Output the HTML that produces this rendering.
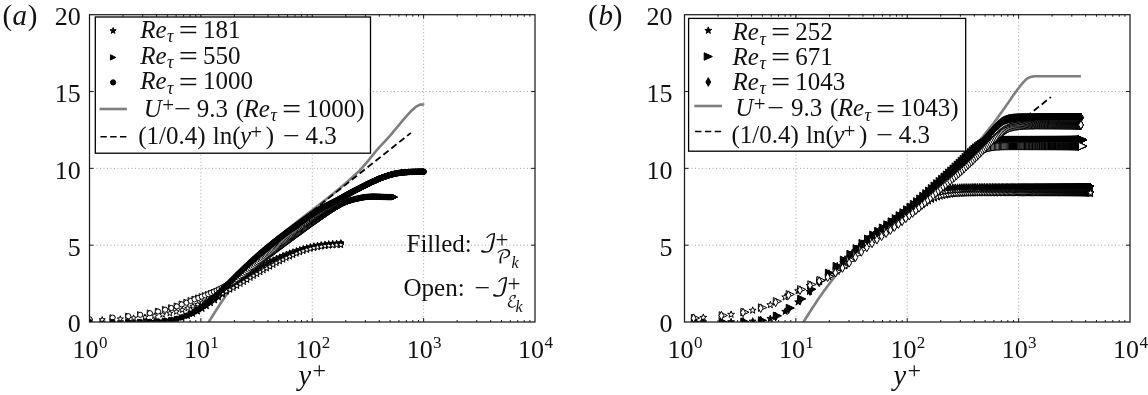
<!DOCTYPE html>
<html lang="en"><head><meta charset="utf-8"><title>Figure</title>
<style>
html,body{margin:0;padding:0;background:#fff;}
body{width:1148px;height:395px;overflow:hidden;}
svg{display:block;}
.t{font-family:"Liberation Serif", "DejaVu Serif", serif;font-size:26px;fill:#111;}
.l{font-family:"Liberation Serif", "DejaVu Serif", serif;font-size:25px;fill:#111;}
.i{font-style:italic;}
</style></head><body>
<svg width="1148" height="395" viewBox="0 0 1148 395">
<rect width="1148" height="395" fill="#fff"/>
<line x1="200.88" y1="14.7" x2="200.88" y2="322.0" stroke="#a6a6a6" stroke-width="1" stroke-dasharray="1 2.5"/>
<line x1="312.25" y1="14.7" x2="312.25" y2="322.0" stroke="#a6a6a6" stroke-width="1" stroke-dasharray="1 2.5"/>
<line x1="423.62" y1="14.7" x2="423.62" y2="322.0" stroke="#a6a6a6" stroke-width="1" stroke-dasharray="1 2.5"/>
<line x1="89.5" y1="245.18" x2="535.0" y2="245.18" stroke="#a6a6a6" stroke-width="1" stroke-dasharray="1 2.5"/>
<line x1="89.5" y1="168.35" x2="535.0" y2="168.35" stroke="#a6a6a6" stroke-width="1" stroke-dasharray="1 2.5"/>
<line x1="89.5" y1="91.53" x2="535.0" y2="91.53" stroke="#a6a6a6" stroke-width="1" stroke-dasharray="1 2.5"/>
<line x1="795.88" y1="14.7" x2="795.88" y2="322.0" stroke="#a6a6a6" stroke-width="1" stroke-dasharray="1 2.5"/>
<line x1="907.25" y1="14.7" x2="907.25" y2="322.0" stroke="#a6a6a6" stroke-width="1" stroke-dasharray="1 2.5"/>
<line x1="1018.62" y1="14.7" x2="1018.62" y2="322.0" stroke="#a6a6a6" stroke-width="1" stroke-dasharray="1 2.5"/>
<line x1="684.5" y1="245.18" x2="1130.0" y2="245.18" stroke="#a6a6a6" stroke-width="1" stroke-dasharray="1 2.5"/>
<line x1="684.5" y1="168.35" x2="1130.0" y2="168.35" stroke="#a6a6a6" stroke-width="1" stroke-dasharray="1 2.5"/>
<line x1="684.5" y1="91.53" x2="1130.0" y2="91.53" stroke="#a6a6a6" stroke-width="1" stroke-dasharray="1 2.5"/>
<defs><marker id="saf" viewBox="-8 -8 16 16" markerWidth="16" markerHeight="16" refX="0" refY="0" markerUnits="userSpaceOnUse" orient="0" overflow="visible"><path d="M0.00 -3.20L0.75 -1.04L3.04 -0.99L1.22 0.40L1.88 2.59L0.00 1.28L-1.88 2.59L-1.22 0.40L-3.04 -0.99L-0.75 -1.04Z" fill="#000" stroke="#000" stroke-width="1.0" stroke-linejoin="miter"/></marker><marker id="sao" viewBox="-8 -8 16 16" markerWidth="16" markerHeight="16" refX="0" refY="0" markerUnits="userSpaceOnUse" orient="0" overflow="visible"><path d="M0.00 -3.20L0.75 -1.04L3.04 -0.99L1.22 0.40L1.88 2.59L0.00 1.28L-1.88 2.59L-1.22 0.40L-3.04 -0.99L-0.75 -1.04Z" fill="#fff" stroke="#000" stroke-width="1.0" stroke-linejoin="miter"/></marker><marker id="taf" viewBox="-8 -8 16 16" markerWidth="16" markerHeight="16" refX="0" refY="0" markerUnits="userSpaceOnUse" orient="0" overflow="visible"><path d="M-2.65 -2.65L2.65 0L-2.65 2.65Z" fill="#000" stroke="#000" stroke-width="1.0"/></marker><marker id="tao" viewBox="-8 -8 16 16" markerWidth="16" markerHeight="16" refX="0" refY="0" markerUnits="userSpaceOnUse" orient="0" overflow="visible"><path d="M-2.65 -2.65L2.65 0L-2.65 2.65Z" fill="#fff" stroke="#000" stroke-width="1.0"/></marker><marker id="caf" viewBox="-8 -8 16 16" markerWidth="16" markerHeight="16" refX="0" refY="0" markerUnits="userSpaceOnUse" orient="0" overflow="visible"><circle r="2.6" fill="#000" stroke="#000" stroke-width="1.0"/></marker><marker id="cao" viewBox="-8 -8 16 16" markerWidth="16" markerHeight="16" refX="0" refY="0" markerUnits="userSpaceOnUse" orient="0" overflow="visible"><circle r="2.6" fill="#fff" stroke="#000" stroke-width="1.0"/></marker><marker id="sbf" viewBox="-8 -8 16 16" markerWidth="16" markerHeight="16" refX="0" refY="0" markerUnits="userSpaceOnUse" orient="0" overflow="visible"><path d="M0.00 -3.60L0.85 -1.16L3.42 -1.11L1.37 0.44L2.12 2.91L0.00 1.44L-2.12 2.91L-1.37 0.44L-3.42 -1.11L-0.85 -1.16Z" fill="#000" stroke="#000" stroke-width="1.0" stroke-linejoin="miter"/></marker><marker id="sbo" viewBox="-8 -8 16 16" markerWidth="16" markerHeight="16" refX="0" refY="0" markerUnits="userSpaceOnUse" orient="0" overflow="visible"><path d="M0.00 -3.60L0.85 -1.16L3.42 -1.11L1.37 0.44L2.12 2.91L0.00 1.44L-2.12 2.91L-1.37 0.44L-3.42 -1.11L-0.85 -1.16Z" fill="#fff" stroke="#000" stroke-width="1.0" stroke-linejoin="miter"/></marker><marker id="tbf" viewBox="-8 -8 16 16" markerWidth="16" markerHeight="16" refX="0" refY="0" markerUnits="userSpaceOnUse" orient="0" overflow="visible"><path d="M-4.10 -3.75L4.10 0L-4.10 3.75Z" fill="#000" stroke="#000" stroke-width="1.0"/></marker><marker id="tbo" viewBox="-8 -8 16 16" markerWidth="16" markerHeight="16" refX="0" refY="0" markerUnits="userSpaceOnUse" orient="0" overflow="visible"><path d="M-4.10 -3.75L4.10 0L-4.10 3.75Z" fill="#fff" stroke="#000" stroke-width="1.0"/></marker><marker id="dbf" viewBox="-8 -8 16 16" markerWidth="16" markerHeight="16" refX="0" refY="0" markerUnits="userSpaceOnUse" orient="0" overflow="visible"><path d="M0 -4.30L2.40 0L0 4.30L-2.40 0Z" fill="#000" stroke="#000" stroke-width="1.0"/></marker><marker id="dbo" viewBox="-8 -8 16 16" markerWidth="16" markerHeight="16" refX="0" refY="0" markerUnits="userSpaceOnUse" orient="0" overflow="visible"><path d="M0 -4.30L2.40 0L0 4.30L-2.40 0Z" fill="#fff" stroke="#000" stroke-width="1.0"/></marker><clipPath id="clipa"><rect x="89.5" y="14.7" width="445.5" height="307.3"/></clipPath><clipPath id="clipb"><rect x="684.5" y="14.7" width="445.5" height="307.3"/></clipPath></defs>
<g clip-path="url(#clipa)">
<polyline points="204.2,329.6 204.3,329.4 204.4,329.3 204.5,329.1 204.6,328.9 204.6,328.8 204.7,328.6 204.8,328.5 204.9,328.3 205.0,328.2 205.1,328.0 205.2,327.9 205.3,327.7 205.4,327.5 205.5,327.4 205.6,327.2 205.7,327.1 205.8,326.9 205.9,326.8 205.9,326.6 206.0,326.5 206.1,326.3 206.2,326.2 206.3,326.0 206.4,325.8 206.5,325.7 206.6,325.5 206.7,325.4 206.8,325.2 206.9,325.1 207.0,324.9 207.1,324.8 207.2,324.6 207.2,324.5 207.3,324.3 207.4,324.2 207.5,324.0 207.6,323.9 207.7,323.7 207.8,323.5 207.9,323.4 208.0,323.2 208.1,323.1 208.2,322.9 208.3,322.8 208.4,322.6 208.4,322.5 208.5,322.3 208.6,322.2 208.7,322.0 208.8,321.9 208.9,321.7 209.0,321.6 209.1,321.4 209.2,321.3 209.3,321.1 209.4,321.0 209.5,320.8 209.6,320.7 209.7,320.5 209.7,320.4 209.8,320.2 209.9,320.1 210.0,319.9 210.1,319.7 210.2,319.6 210.3,319.4 210.4,319.3 210.5,319.1 210.6,319.0 210.7,318.8 210.8,318.7 210.9,318.5 211.0,318.4 211.0,318.2 211.1,318.1 211.2,317.9 211.3,317.8 211.4,317.6 211.5,317.5 211.6,317.3 211.7,317.2 211.8,317.0 211.9,316.9 212.0,316.7 212.1,316.6 212.2,316.5 212.3,316.3 212.3,316.2 212.4,316.0 212.5,315.9 212.6,315.7 212.7,315.6 212.8,315.4 212.9,315.3 213.0,315.1 213.1,315.0 213.2,314.8 213.3,314.7 213.4,314.5 213.5,314.4 213.6,314.2 213.6,314.1 213.7,313.9 213.8,313.8 213.9,313.6 214.0,313.5 214.1,313.3 214.2,313.2 214.3,313.1 214.4,312.9 214.5,312.8 214.6,312.6 214.7,312.5 214.8,312.3 214.9,312.2 214.9,312.0 215.0,311.9 215.1,311.7 215.2,311.6 215.3,311.4 215.4,311.3 215.5,311.2 215.6,311.0 215.7,310.9 215.8,310.7 215.9,310.6 216.0,310.4 216.1,310.3 216.2,310.1 216.2,310.0 216.3,309.8 216.4,309.7 216.5,309.6 216.6,309.4 216.7,309.3 216.8,309.1 216.9,309.0 217.0,308.8 217.1,308.7 217.2,308.6 217.3,308.4 217.4,308.3 217.5,308.1 217.5,308.0 217.6,307.8 217.7,307.7 217.8,307.5 217.9,307.4 218.0,307.3 218.1,307.1 218.2,307.0 218.3,306.8 218.4,306.7 218.5,306.5 218.6,306.4 218.7,306.3 218.8,306.1 218.8,306.0 218.9,305.8 219.0,305.7 219.1,305.6 219.2,305.4 219.3,305.3 219.4,305.1 219.5,305.0 219.6,304.9 219.7,304.7 219.8,304.6 219.9,304.4 220.0,304.3 220.1,304.1 220.1,304.0 220.2,303.9 220.3,303.7 220.4,303.6 220.5,303.4 220.6,303.3 220.7,303.2 220.8,303.0 220.9,302.9 221.0,302.8 221.1,302.6 221.2,302.5 221.3,302.3 221.4,302.2 221.4,302.1 221.5,301.9 221.6,301.8 221.7,301.6 221.8,301.5 221.9,301.4 222.0,301.2 222.1,301.1 222.2,301.0 222.3,300.8 222.4,300.7 222.5,300.5 222.6,300.4 222.7,300.3 222.7,300.1 222.8,300.0 222.9,299.9 223.0,299.7 223.1,299.6 223.2,299.4 223.3,299.3 223.4,299.2 223.5,299.0 223.6,298.9 223.7,298.8 223.8,298.6 223.9,298.5 224.0,298.4 224.0,298.2 224.1,298.1 224.2,297.9 224.3,297.8 224.4,297.7 224.5,297.5 224.6,297.4 224.7,297.3 224.8,297.1 224.9,297.0 225.0,296.9 225.1,296.7 225.2,296.6 225.3,296.5 225.3,296.3 225.4,296.2 225.5,296.1 225.6,295.9 225.7,295.8 225.8,295.7 225.9,295.5 226.0,295.4 226.1,295.3 226.2,295.1 226.3,295.0 226.4,294.9 226.5,294.7 226.6,294.6 226.6,294.5 226.7,294.3 226.8,294.2 226.9,294.1 227.0,293.9 227.1,293.8 227.2,293.7 227.3,293.5 227.4,293.4 227.5,293.3 227.6,293.1 227.7,293.0 227.8,292.9 227.9,292.7 227.9,292.6 228.0,292.5 228.1,292.4 228.2,292.2 228.3,292.1 228.4,292.0 228.5,291.8 228.6,291.7 228.7,291.6 228.8,291.4 228.9,291.3 229.0,291.2 229.1,291.1 229.2,290.9 229.2,290.8 229.3,290.7 229.4,290.5 229.5,290.4 229.6,290.3 229.7,290.1 229.8,290.0 229.9,289.9 230.0,289.8 230.1,289.6 230.2,289.5 230.3,289.4 230.4,289.2 230.4,289.1 230.5,289.0 230.6,288.9 230.7,288.7 230.8,288.6 230.9,288.5 231.0,288.4 231.1,288.2 231.2,288.1 231.3,288.0 231.4,287.8 231.5,287.7 231.6,287.6 231.7,287.5 231.7,287.3 231.8,287.2 231.9,287.1 232.0,287.0 232.1,286.8 232.2,286.7 232.3,286.6 232.4,286.5 232.5,286.3 232.6,286.2 232.7,286.1 232.8,286.0 232.9,285.8 233.0,285.7 233.0,285.6 233.1,285.5 233.2,285.3 233.3,285.2 233.4,285.1 233.5,285.0 233.6,284.8 233.7,284.7 233.8,284.6 233.9,284.5 234.0,284.3 234.1,284.2 234.2,284.1 234.3,284.0 234.3,283.8 234.4,283.7 234.5,283.6 234.6,283.5 234.7,283.4 234.8,283.2 234.9,283.1 235.0,283.0 235.1,282.9 235.2,282.7 235.3,282.6 235.4,282.5 235.5,282.4 235.6,282.2 235.6,282.1 235.7,282.0 235.8,281.9 235.9,281.8 236.0,281.6 236.1,281.5 236.2,281.4 236.3,281.3 236.4,281.2 236.5,281.0 236.6,280.9 236.7,280.8 236.8,280.7 236.9,280.6 236.9,280.4 237.0,280.3 237.1,280.2 237.2,280.1 237.3,280.0 237.4,279.8 237.5,279.7 237.6,279.6 237.7,279.5 237.8,279.4 237.9,279.2 238.0,279.1 238.1,279.0 238.2,278.9 238.2,278.8 238.3,278.6 238.4,278.5 238.5,278.4 238.6,278.3 238.7,278.2 238.8,278.0 238.9,277.9 239.0,277.8 239.1,277.7 239.2,277.6 239.3,277.5 239.4,277.3 239.5,277.2 239.5,277.1 239.6,277.0 239.7,276.9 239.8,276.8 239.9,276.6 240.0,276.5 240.1,276.4 240.2,276.3 240.3,276.2 240.4,276.1 240.5,275.9 240.6,275.8 240.7,275.7 240.8,275.6 240.8,275.5 240.9,275.4 241.0,275.2 241.1,275.1 241.2,275.0 241.3,274.9 241.4,274.8 241.5,274.7 241.6,274.5 241.7,274.4 241.8,274.3 241.9,274.2 242.0,274.1 242.1,274.0 242.1,273.9 242.2,273.7 242.3,273.6 242.4,273.5 242.5,273.4 242.6,273.3 242.7,273.2 242.8,273.1 242.9,272.9 243.0,272.8 243.1,272.7 243.2,272.6 243.3,272.5 243.4,272.4 243.4,272.3 243.5,272.1 243.6,272.0 243.7,271.9 243.8,271.8 243.9,271.7 244.0,271.6 244.1,271.5 244.2,271.4 244.3,271.2 244.4,271.1 244.5,271.0 244.6,270.9 244.7,270.8 244.7,270.7 244.8,270.6 244.9,270.5 245.0,270.4 245.1,270.2 245.2,270.1 245.3,270.0 245.4,269.9 245.5,269.8 245.6,269.7 245.7,269.6 245.8,269.5 245.9,269.4 246.0,269.2 246.0,269.1 246.1,269.0 246.2,268.9 246.3,268.8 246.4,268.7 246.5,268.6 246.6,268.5 246.7,268.4 246.8,268.2 246.9,268.1 247.0,268.0 247.1,267.9 247.2,267.8 247.3,267.7 247.3,267.6 247.4,267.5 247.5,267.4 247.6,267.3 247.7,267.2 247.8,267.0 247.9,266.9 248.0,266.8 248.1,266.7 248.2,266.6 248.3,266.5 248.4,266.4 248.5,266.3 248.6,266.2 248.6,266.1 248.7,266.0 248.8,265.9 248.9,265.7 249.0,265.6 249.1,265.5 249.2,265.4 249.3,265.3 249.4,265.2 249.5,265.1 249.6,265.0 249.7,264.9 249.8,264.8 249.9,264.7 249.9,264.6 250.0,264.5 250.1,264.4 250.2,264.3 250.3,264.1 250.4,264.0 250.5,263.9 250.6,263.8 250.7,263.7 250.8,263.6 250.9,263.5 251.0,263.4 251.1,263.3 251.2,263.2 251.2,263.1 251.3,263.0 251.4,262.9 251.5,262.8 251.6,262.7 251.7,262.6 251.8,262.5 251.9,262.4 252.0,262.2 252.1,262.1 252.2,262.0 252.3,261.9 252.4,261.8 252.5,261.7 252.5,261.6 252.6,261.5 252.7,261.4 252.8,261.3 252.9,261.2 253.0,261.1 253.1,261.0 253.2,260.9 253.3,260.8 253.4,260.7 253.5,260.6 253.6,260.5 253.7,260.4 253.7,260.3 253.8,260.2 253.9,260.1 254.0,260.0 254.1,259.9 254.2,259.8 254.3,259.7 254.4,259.6 254.5,259.5 254.6,259.4 254.7,259.3 254.8,259.2 254.9,259.1 255.0,259.0 255.0,258.9 255.1,258.8 255.2,258.7 255.3,258.6 255.4,258.5 255.5,258.4 255.6,258.3 255.7,258.2 255.8,258.1 255.9,258.1 256.0,258.0 256.1,257.9 256.2,257.8 256.3,257.7 256.3,257.6 256.4,257.5 256.5,257.4 256.6,257.3 256.7,257.2 256.8,257.1 256.9,257.0 257.0,256.9 257.1,256.8 257.2,256.7 257.3,256.6 257.4,256.5 257.5,256.5 257.6,256.4 257.6,256.3 257.7,256.2 257.8,256.1 257.9,256.0 258.0,255.9 258.1,255.8 258.2,255.7 258.3,255.6 258.4,255.5 258.5,255.4 258.6,255.3 258.7,255.2 258.8,255.2 258.9,255.1 258.9,255.0 259.0,254.9 259.1,254.8 259.2,254.7 259.3,254.6 259.4,254.5 259.5,254.4 259.6,254.3 259.7,254.2 259.8,254.1 259.9,254.0 260.0,254.0 260.1,253.9 260.2,253.8 260.2,253.7 260.3,253.6 260.4,253.5 260.5,253.4 260.6,253.3 260.7,253.2 260.8,253.1 260.9,253.0 261.0,253.0 261.1,252.9 261.2,252.8 261.3,252.7 261.4,252.6 261.5,252.5 261.5,252.4 261.6,252.3 261.7,252.2 261.8,252.1 261.9,252.1 262.0,252.0 262.1,251.9 262.2,251.8 262.3,251.7 262.4,251.6 262.5,251.5 262.6,251.4 262.7,251.3 262.8,251.2 262.8,251.2 262.9,251.1 263.0,251.0 263.1,250.9 263.2,250.8 263.3,250.7 263.4,250.6 263.5,250.5 263.6,250.4 263.7,250.4 263.8,250.3 263.9,250.2 264.0,250.1 264.1,250.0 264.1,249.9 264.2,249.8 264.3,249.7 264.4,249.6 264.5,249.6 264.6,249.5 264.7,249.4 264.8,249.3 264.9,249.2 265.0,249.1 265.1,249.0 265.2,248.9 265.3,248.9 265.4,248.8 265.4,248.7 265.5,248.6 265.6,248.5 265.7,248.4 265.8,248.3 265.9,248.2 266.0,248.2 266.1,248.1 266.2,248.0 266.3,247.9 266.4,247.8 266.5,247.7 266.6,247.6 266.7,247.6 266.7,247.5 266.8,247.4 266.9,247.3 267.0,247.2 267.1,247.1 267.2,247.0 267.3,246.9 267.4,246.9 267.5,246.8 267.6,246.7 267.7,246.6 267.8,246.5 267.9,246.4 268.0,246.3 268.0,246.3 268.1,246.2 268.2,246.1 268.3,246.0 268.4,245.9 268.5,245.8 268.6,245.7 268.7,245.7 268.8,245.6 268.9,245.5 269.0,245.4 269.1,245.3 269.2,245.2 269.3,245.2 269.3,245.1 269.4,245.0 269.5,244.9 269.6,244.8 269.7,244.7 269.8,244.6 269.9,244.6 270.0,244.5 270.1,244.4 270.2,244.3 270.3,244.2 270.4,244.1 270.5,244.1 270.6,244.0 270.6,243.9 270.7,243.8 270.8,243.7 270.9,243.6 271.0,243.5 271.1,243.5 271.2,243.4 271.3,243.3 271.4,243.2 271.5,243.1 271.6,243.0 271.7,243.0 271.8,242.9 271.9,242.8 271.9,242.7 272.0,242.6 272.1,242.5 272.2,242.5 272.3,242.4 272.4,242.3 272.5,242.2 272.6,242.1 272.7,242.0 272.8,242.0 272.9,241.9 273.0,241.8 273.1,241.7 273.2,241.6 273.2,241.6 273.3,241.5 273.4,241.4 273.5,241.3 273.6,241.2 273.7,241.1 273.8,241.1 273.9,241.0 274.0,240.9 274.1,240.8 274.2,240.7 274.3,240.6 274.4,240.6 274.5,240.5 274.5,240.4 274.6,240.3 274.7,240.2 274.8,240.2 274.9,240.1 275.0,240.0 275.1,239.9 275.2,239.8 275.3,239.7 275.4,239.7 275.5,239.6 275.6,239.5 275.7,239.4 275.8,239.3 275.8,239.3 275.9,239.2 276.0,239.1 276.1,239.0 276.2,238.9 276.3,238.9 276.4,238.8 276.5,238.7 276.6,238.6 276.7,238.5 276.8,238.5 276.9,238.4 277.0,238.3 277.0,238.2 277.1,238.1 277.2,238.0 277.3,238.0 277.4,237.9 277.5,237.8 277.6,237.7 277.7,237.6 277.8,237.6 277.9,237.5 278.0,237.4 278.1,237.3 278.2,237.2 278.3,237.2 278.3,237.1 278.4,237.0 278.5,236.9 278.6,236.8 278.7,236.8 278.8,236.7 278.9,236.6 279.0,236.5 279.1,236.4 279.2,236.4 279.3,236.3 279.4,236.2 279.5,236.1 279.6,236.1 279.6,236.0 279.7,235.9 279.8,235.8 279.9,235.7 280.0,235.7 280.1,235.6 280.2,235.5 280.3,235.4 280.4,235.3 280.5,235.3 280.6,235.2 280.7,235.1 280.8,235.0 280.9,234.9 280.9,234.9 281.0,234.8 281.1,234.7 281.2,234.6 281.3,234.6 281.4,234.5 281.5,234.4 281.6,234.3 281.7,234.2 281.8,234.2 281.9,234.1 282.0,234.0 282.1,233.9 282.2,233.8 282.2,233.8 282.3,233.7 282.4,233.6 282.5,233.5 282.6,233.5 282.7,233.4 282.8,233.3 282.9,233.2 283.0,233.1 283.1,233.1 283.2,233.0 283.3,232.9 283.4,232.8 283.5,232.8 283.5,232.7 283.6,232.6 283.7,232.5 283.8,232.4 283.9,232.4 284.0,232.3 284.1,232.2 284.2,232.1 284.3,232.1 284.4,232.0 284.5,231.9 284.6,231.8 284.7,231.7 284.8,231.7 284.8,231.6 284.9,231.5 285.0,231.4 285.1,231.4 285.2,231.3 285.3,231.2 285.4,231.1 285.5,231.1 285.6,231.0 285.7,230.9 285.8,230.8 285.9,230.7 286.0,230.7 286.1,230.6 286.1,230.5 286.2,230.4 286.3,230.4 286.4,230.3 286.5,230.2 286.6,230.1 286.7,230.1 286.8,230.0 286.9,229.9 287.0,229.8 287.1,229.7 287.2,229.7 287.3,229.6 287.4,229.5 287.4,229.4 287.5,229.4 287.6,229.3 287.7,229.2 287.8,229.1 287.9,229.1 288.0,229.0 288.1,228.9 288.2,228.8 288.3,228.8 288.4,228.7 288.5,228.6 288.6,228.5 288.7,228.5 288.7,228.4 288.8,228.3 288.9,228.2 289.0,228.2 289.1,228.1 289.2,228.0 289.3,227.9 289.4,227.9 289.5,227.8 289.6,227.7 289.7,227.6 289.8,227.6 289.9,227.5 290.0,227.4 290.0,227.3 290.1,227.3 290.2,227.2 290.3,227.1 290.4,227.1 290.5,227.0 290.6,226.9 290.7,226.8 290.8,226.8 290.9,226.7 291.0,226.6 291.1,226.5 291.2,226.5 291.3,226.4 291.3,226.3 291.4,226.2 291.5,226.2 291.6,226.1 291.7,226.0 291.8,225.9 291.9,225.9 292.0,225.8 292.1,225.7 292.2,225.6 292.3,225.6 292.4,225.5 292.5,225.4 292.6,225.3 292.6,225.3 292.7,225.2 292.8,225.1 292.9,225.1 293.0,225.0 293.1,224.9 293.2,224.8 293.3,224.8 293.4,224.7 293.5,224.6 293.6,224.5 293.7,224.5 293.8,224.4 293.9,224.3 293.9,224.2 294.0,224.2 294.1,224.1 294.2,224.0 294.3,224.0 294.4,223.9 294.5,223.8 294.6,223.7 294.7,223.7 294.8,223.6 294.9,223.5 295.0,223.4 295.1,223.4 295.2,223.3 295.2,223.2 295.3,223.1 295.4,223.1 295.5,223.0 295.6,222.9 295.7,222.9 295.8,222.8 295.9,222.7 296.0,222.6 296.1,222.6 296.2,222.5 296.3,222.4 296.4,222.3 296.5,222.3 296.5,222.2 296.6,222.1 296.7,222.1 296.8,222.0 296.9,221.9 297.0,221.8 297.1,221.8 297.2,221.7 297.3,221.6 297.4,221.5 297.5,221.5 297.6,221.4 297.7,221.3 297.8,221.3 297.8,221.2 297.9,221.1 298.0,221.0 298.1,221.0 298.2,220.9 298.3,220.8 298.4,220.7 298.5,220.7 298.6,220.6 298.7,220.5 298.8,220.5 298.9,220.4 299.0,220.3 299.0,220.2 299.1,220.2 299.2,220.1 299.3,220.0 299.4,220.0 299.5,219.9 299.6,219.8 299.7,219.7 299.8,219.7 299.9,219.6 300.0,219.5 300.1,219.4 300.2,219.4 300.3,219.3 300.3,219.2 300.4,219.2 300.5,219.1 300.6,219.0 300.7,218.9 300.8,218.9 300.9,218.8 301.0,218.7 301.1,218.7 301.2,218.6 301.3,218.5 301.4,218.4 301.5,218.4 301.6,218.3 301.6,218.2 301.7,218.2 301.8,218.1 301.9,218.0 302.0,217.9 302.1,217.9 302.2,217.8 302.3,217.7 302.4,217.6 302.5,217.6 302.6,217.5 302.7,217.4 302.8,217.4 302.9,217.3 302.9,217.2 303.0,217.1 303.1,217.1 303.2,217.0 303.3,216.9 303.4,216.9 303.5,216.8 303.6,216.7 303.7,216.6 303.8,216.6 303.9,216.5 304.0,216.4 304.1,216.4 304.2,216.3 304.2,216.2 304.3,216.1 304.4,216.1 304.5,216.0 304.6,215.9 304.7,215.9 304.8,215.8 304.9,215.7 305.0,215.6 305.1,215.6 305.2,215.5 305.3,215.4 305.4,215.4 305.5,215.3 305.5,215.2 305.6,215.1 305.7,215.1 305.8,215.0 305.9,214.9 306.0,214.9 306.1,214.8 306.2,214.7 306.3,214.6 306.4,214.6 306.5,214.5 306.6,214.4 306.7,214.4 306.8,214.3 306.8,214.2 306.9,214.1 307.0,214.1 307.1,214.0 307.2,213.9 307.3,213.9 307.4,213.8 307.5,213.7 307.6,213.6 307.7,213.6 307.8,213.5 307.9,213.4 308.0,213.4 308.1,213.3 308.1,213.2 308.2,213.1 308.3,213.1 308.4,213.0 308.5,212.9 308.6,212.9 308.7,212.8 308.8,212.7 308.9,212.6 309.0,212.6 309.1,212.5 309.2,212.4 309.3,212.4 309.4,212.3 309.4,212.2 309.5,212.1 309.6,212.1 309.7,212.0 309.8,211.9 309.9,211.9 310.0,211.8 310.1,211.7 310.2,211.6 310.3,211.6 310.4,211.5 310.5,211.4 310.6,211.4 310.7,211.3 310.7,211.2 310.8,211.1 310.9,211.1 311.0,211.0 311.1,210.9 311.2,210.9 311.3,210.8 311.4,210.7 311.5,210.7 311.6,210.6 311.7,210.5 311.8,210.4 311.9,210.4 312.0,210.3 312.0,210.2 312.1,210.2 312.2,210.1 312.3,210.0 312.4,209.9 312.5,209.9 312.6,209.8 312.7,209.7 312.8,209.7 312.9,209.6 313.0,209.5 313.1,209.4 313.2,209.4 313.3,209.3 313.3,209.2 313.4,209.1 313.5,209.1 313.6,209.0 313.7,208.9 313.8,208.9 313.9,208.8 314.0,208.7 314.1,208.6 314.2,208.6 314.3,208.5 314.4,208.4 314.5,208.4 314.6,208.3 314.6,208.2 314.7,208.1 314.8,208.1 314.9,208.0 315.0,207.9 315.1,207.9 315.2,207.8 315.3,207.7 315.4,207.6 315.5,207.6 315.6,207.5 315.7,207.4 315.8,207.3 315.9,207.3 315.9,207.2 316.0,207.1 316.1,207.1 316.2,207.0 316.3,206.9 316.4,206.8 316.5,206.8 316.6,206.7 316.7,206.6 316.8,206.6 316.9,206.5 317.0,206.4 317.1,206.3 317.2,206.3 317.2,206.2 317.3,206.1 317.4,206.1 317.5,206.0 317.6,205.9 317.7,205.8 317.8,205.8 317.9,205.7 318.0,205.6 318.1,205.5 318.2,205.5 318.3,205.4 318.4,205.3 318.5,205.3 318.5,205.2 318.6,205.1 318.7,205.0 318.8,205.0 318.9,204.9 319.0,204.8 319.1,204.8 319.2,204.7 319.3,204.6 319.4,204.5 319.5,204.5 319.6,204.4 319.7,204.3 319.8,204.2 319.8,204.2 319.9,204.1 320.0,204.0 320.1,204.0 320.2,203.9 320.3,203.8 320.4,203.7 320.5,203.7 320.6,203.6 320.7,203.5 320.8,203.5 320.9,203.4 321.0,203.3 321.1,203.2 321.1,203.2 321.2,203.1 321.3,203.0 321.4,203.0 321.5,202.9 321.6,202.8 321.7,202.7 321.8,202.7 321.9,202.6 322.0,202.5 322.1,202.4 322.2,202.4 322.3,202.3 322.3,202.2 322.4,202.2 322.5,202.1 322.6,202.0 322.7,201.9 322.8,201.9 322.9,201.8 323.0,201.7 323.1,201.7 323.2,201.6 323.3,201.5 323.4,201.4 323.5,201.4 323.6,201.3 323.6,201.2 323.7,201.1 323.8,201.1 323.9,201.0 324.0,200.9 324.1,200.9 324.2,200.8 324.3,200.7 324.4,200.6 324.5,200.6 324.6,200.5 324.7,200.4 324.8,200.4 324.9,200.3 324.9,200.2 325.0,200.1 325.1,200.1 325.2,200.0 325.3,199.9 325.4,199.8 325.5,199.8 325.6,199.7 325.7,199.6 325.8,199.6 325.9,199.5 326.0,199.4 326.1,199.3 326.2,199.3 326.2,199.2 326.3,199.1 326.4,199.0 326.5,199.0 326.6,198.9 326.7,198.8 326.8,198.8 326.9,198.7 327.0,198.6 327.1,198.5 327.2,198.5 327.3,198.4 327.4,198.3 327.5,198.2 327.5,198.2 327.6,198.1 327.7,198.0 327.8,198.0 327.9,197.9 328.0,197.8 328.1,197.7 328.2,197.7 328.3,197.6 328.4,197.5 328.5,197.5 328.6,197.4 328.7,197.3 328.8,197.2 328.8,197.2 328.9,197.1 329.0,197.0 329.1,196.9 329.2,196.9 329.3,196.8 329.4,196.7 329.5,196.7 329.6,196.6 329.7,196.5 329.8,196.4 329.9,196.4 330.0,196.3 330.1,196.2 330.1,196.1 330.2,196.1 330.3,196.0 330.4,195.9 330.5,195.8 330.6,195.8 330.7,195.7 330.8,195.6 330.9,195.6 331.0,195.5 331.1,195.4 331.2,195.3 331.3,195.3 331.4,195.2 331.4,195.1 331.5,195.0 331.6,195.0 331.7,194.9 331.8,194.8 331.9,194.8 332.0,194.7 332.1,194.6 332.2,194.5 332.3,194.4 332.4,194.4 332.5,194.3 332.6,194.2 332.7,194.1 332.7,194.1 332.8,194.0 332.9,193.9 333.0,193.8 333.1,193.8 333.2,193.7 333.3,193.6 333.4,193.5 333.5,193.5 333.6,193.4 333.7,193.3 333.8,193.2 333.9,193.1 334.0,193.1 334.0,193.0 334.1,192.9 334.2,192.8 334.3,192.8 334.4,192.7 334.5,192.6 334.6,192.5 334.7,192.5 334.8,192.4 334.9,192.3 335.0,192.2 335.1,192.1 335.2,192.1 335.3,192.0 335.3,191.9 335.4,191.8 335.5,191.8 335.6,191.7 335.7,191.6 335.8,191.5 335.9,191.5 336.0,191.4 336.1,191.3 336.2,191.2 336.3,191.1 336.4,191.1 336.5,191.0 336.6,190.9 336.6,190.8 336.7,190.8 336.8,190.7 336.9,190.6 337.0,190.5 337.1,190.5 337.2,190.4 337.3,190.3 337.4,190.2 337.5,190.1 337.6,190.1 337.7,190.0 337.8,189.9 337.9,189.8 337.9,189.8 338.0,189.7 338.1,189.6 338.2,189.5 338.3,189.5 338.4,189.4 338.5,189.3 338.6,189.2 338.7,189.1 338.8,189.1 338.9,189.0 339.0,188.9 339.1,188.8 339.2,188.8 339.2,188.7 339.3,188.6 339.4,188.5 339.5,188.4 339.6,188.4 339.7,188.3 339.8,188.2 339.9,188.1 340.0,188.1 340.1,188.0 340.2,187.9 340.3,187.8 340.4,187.7 340.5,187.7 340.5,187.6 340.6,187.5 340.7,187.4 340.8,187.4 340.9,187.3 341.0,187.2 341.1,187.1 341.2,187.0 341.3,187.0 341.4,186.9 341.5,186.8 341.6,186.7 341.7,186.7 341.8,186.6 341.8,186.5 341.9,186.4 342.0,186.3 342.1,186.3 342.2,186.2 342.3,186.1 342.4,186.0 342.5,186.0 342.6,185.9 342.7,185.8 342.8,185.7 342.9,185.6 343.0,185.6 343.1,185.5 343.1,185.4 343.2,185.3 343.3,185.3 343.4,185.2 343.5,185.1 343.6,185.0 343.7,184.9 343.8,184.9 343.9,184.8 344.0,184.7 344.1,184.6 344.2,184.6 344.3,184.5 344.3,184.4 344.4,184.3 344.5,184.2 344.6,184.2 344.7,184.1 344.8,184.0 344.9,183.9 345.0,183.9 345.1,183.8 345.2,183.7 345.3,183.6 345.4,183.5 345.5,183.5 345.6,183.4 345.6,183.3 345.7,183.2 345.8,183.1 345.9,183.1 346.0,183.0 346.1,182.9 346.2,182.8 346.3,182.7 346.4,182.6 346.5,182.6 346.6,182.5 346.7,182.4 346.8,182.3 346.9,182.2 346.9,182.1 347.0,182.1 347.1,182.0 347.2,181.9 347.3,181.8 347.4,181.7 347.5,181.6 347.6,181.6 347.7,181.5 347.8,181.4 347.9,181.3 348.0,181.2 348.1,181.1 348.2,181.1 348.2,181.0 348.3,180.9 348.4,180.8 348.5,180.7 348.6,180.6 348.7,180.5 348.8,180.5 348.9,180.4 349.0,180.3 349.1,180.2 349.2,180.1 349.3,180.0 349.4,180.0 349.5,179.9 349.5,179.8 349.6,179.7 349.7,179.6 349.8,179.5 349.9,179.5 350.0,179.4 350.1,179.3 350.2,179.2 350.3,179.1 350.4,179.0 350.5,179.0 350.6,178.9 350.7,178.8 350.8,178.7 350.8,178.6 350.9,178.5 351.0,178.4 351.1,178.4 351.2,178.3 351.3,178.2 351.4,178.1 351.5,178.0 351.6,177.9 351.7,177.9 351.8,177.8 351.9,177.7 352.0,177.6 352.1,177.5 352.1,177.4 352.2,177.3 352.3,177.3 352.4,177.2 352.5,177.1 352.6,177.0 352.7,176.9 352.8,176.8 352.9,176.8 353.0,176.7 353.1,176.6 353.2,176.5 353.3,176.4 353.4,176.3 353.4,176.2 353.5,176.2 353.6,176.1 353.7,176.0 353.8,175.9 353.9,175.8 354.0,175.7 354.1,175.7 354.2,175.6 354.3,175.5 354.4,175.4 354.5,175.3 354.6,175.2 354.7,175.1 354.7,175.1 354.8,175.0 354.9,174.9 355.0,174.8 355.1,174.7 355.2,174.6 355.3,174.5 355.4,174.5 355.5,174.4 355.6,174.3 355.7,174.2 355.8,174.1 355.9,174.0 356.0,174.0 356.0,173.9 356.1,173.8 356.2,173.7 356.3,173.6 356.4,173.5 356.5,173.4 356.6,173.4 356.7,173.3 356.8,173.2 356.9,173.1 357.0,173.0 357.1,172.9 357.2,172.8 357.3,172.8 357.3,172.7 357.4,172.6 357.5,172.5 357.6,172.4 357.7,172.3 357.8,172.2 357.9,172.2 358.0,172.1 358.1,172.0 358.2,171.9 358.3,171.8 358.4,171.7 358.5,171.6 358.6,171.6 358.6,171.5 358.7,171.4 358.8,171.3 358.9,171.2 359.0,171.1 359.1,171.0 359.2,171.0 359.3,170.9 359.4,170.8 359.5,170.7 359.6,170.6 359.7,170.5 359.8,170.4 359.9,170.4 359.9,170.3 360.0,170.2 360.1,170.1 360.2,169.9 360.3,169.8 360.4,169.7 360.5,169.6 360.6,169.5 360.7,169.4 360.8,169.3 360.9,169.2 361.0,169.1 361.1,169.0 361.2,168.9 361.2,168.8 361.3,168.7 361.4,168.5 361.5,168.4 361.6,168.3 361.7,168.2 361.8,168.1 361.9,168.0 362.0,167.9 362.1,167.8 362.2,167.7 362.3,167.6 362.4,167.5 362.5,167.4 362.5,167.3 362.6,167.1 362.7,167.0 362.8,166.9 362.9,166.8 363.0,166.7 363.1,166.6 363.2,166.5 363.3,166.4 363.4,166.3 363.5,166.2 363.6,166.1 363.7,166.0 363.8,165.9 363.8,165.7 363.9,165.6 364.0,165.5 364.1,165.4 364.2,165.3 364.3,165.2 364.4,165.1 364.5,165.0 364.6,164.9 364.7,164.8 364.8,164.7 364.9,164.6 365.0,164.4 365.1,164.3 365.1,164.2 365.2,164.1 365.3,164.0 365.4,163.9 365.5,163.8 365.6,163.7 365.7,163.6 365.8,163.5 365.9,163.4 366.0,163.3 366.1,163.1 366.2,163.0 366.3,162.9 366.4,162.8 366.4,162.7 366.5,162.6 366.6,162.5 366.7,162.4 366.8,162.3 366.9,162.2 367.0,162.1 367.1,162.0 367.2,161.8 367.3,161.7 367.4,161.6 367.5,161.5 367.6,161.4 367.6,161.3 367.7,161.2 367.8,161.1 367.9,161.0 368.0,160.9 368.1,160.8 368.2,160.6 368.3,160.5 368.4,160.4 368.5,160.3 368.6,160.2 368.7,160.1 368.8,160.0 368.9,159.9 368.9,159.7 369.0,159.6 369.1,159.5 369.2,159.4 369.3,159.3 369.4,159.2 369.5,159.1 369.6,159.0 369.7,158.8 369.8,158.7 369.9,158.6 370.0,158.5 370.1,158.4 370.2,158.3 370.2,158.1 370.3,158.0 370.4,157.9 370.5,157.8 370.6,157.7 370.7,157.6 370.8,157.5 370.9,157.3 371.0,157.2 371.1,157.1 371.2,157.0 371.3,156.9 371.4,156.8 371.5,156.7 371.5,156.5 371.6,156.4 371.7,156.3 371.8,156.2 371.9,156.1 372.0,156.0 372.1,155.9 372.2,155.7 372.3,155.6 372.4,155.5 372.5,155.4 372.6,155.3 372.7,155.2 372.8,155.1 372.8,154.9 372.9,154.8 373.0,154.7 373.1,154.6 373.2,154.5 373.3,154.4 373.4,154.3 373.5,154.1 373.6,154.0 373.7,153.9 373.8,153.8 373.9,153.7 374.0,153.6 374.1,153.4 374.1,153.3 374.2,153.2 374.3,153.1 374.4,153.0 374.5,152.9 374.6,152.8 374.7,152.6 374.8,152.5 374.9,152.4 375.0,152.3 375.1,152.2 375.2,152.1 375.3,151.9 375.4,151.8 375.4,151.7 375.5,151.6 375.6,151.5 375.7,151.4 375.8,151.3 375.9,151.1 376.0,151.0 376.1,150.9 376.2,150.8 376.3,150.7 376.4,150.6 376.5,150.4 376.6,150.3 376.7,150.2 376.7,150.1 376.8,150.0 376.9,149.9 377.0,149.8 377.1,149.7 377.2,149.6 377.3,149.5 377.4,149.4 377.5,149.3 377.6,149.2 377.7,149.1 377.8,149.0 377.9,148.9 378.0,148.8 378.0,148.7 378.1,148.6 378.2,148.5 378.3,148.4 378.4,148.3 378.5,148.2 378.6,148.1 378.7,148.0 378.8,147.9 378.9,147.8 379.0,147.7 379.1,147.6 379.2,147.5 379.3,147.4 379.3,147.3 379.4,147.2 379.5,147.1 379.6,147.0 379.7,146.9 379.8,146.8 379.9,146.7 380.0,146.6 380.1,146.5 380.2,146.4 380.3,146.3 380.4,146.2 380.5,146.1 380.6,146.0 380.6,145.9 380.7,145.8 380.8,145.7 380.9,145.6 381.0,145.5 381.1,145.4 381.2,145.3 381.3,145.2 381.4,145.1 381.5,145.0 381.6,144.9 381.7,144.8 381.8,144.7 381.9,144.6 381.9,144.5 382.0,144.4 382.1,144.3 382.2,144.2 382.3,144.1 382.4,144.0 382.5,143.9 382.6,143.8 382.7,143.7 382.8,143.6 382.9,143.5 383.0,143.4 383.1,143.3 383.2,143.2 383.2,143.1 383.3,143.0 383.4,142.9 383.5,142.8 383.6,142.7 383.7,142.6 383.8,142.5 383.9,142.4 384.0,142.3 384.1,142.2 384.2,142.1 384.3,142.0 384.4,141.9 384.5,141.8 384.5,141.7 384.6,141.6 384.7,141.5 384.8,141.4 384.9,141.3 385.0,141.2 385.1,141.1 385.2,141.0 385.3,140.9 385.4,140.8 385.5,140.7 385.6,140.6 385.7,140.5 385.8,140.4 385.8,140.3 385.9,140.2 386.0,140.1 386.1,140.0 386.2,139.9 386.3,139.8 386.4,139.7 386.5,139.6 386.6,139.5 386.7,139.4 386.8,139.3 386.9,139.2 387.0,139.1 387.1,139.0 387.1,138.9 387.2,138.8 387.3,138.7 387.4,138.6 387.5,138.4 387.6,138.3 387.7,138.2 387.8,138.1 387.9,138.0 388.0,137.9 388.1,137.8 388.2,137.7 388.3,137.6 388.4,137.5 388.4,137.4 388.5,137.3 388.6,137.2 388.7,137.1 388.8,137.0 388.9,136.9 389.0,136.8 389.1,136.7 389.2,136.6 389.3,136.5 389.4,136.4 389.5,136.3 389.6,136.2 389.6,136.1 389.7,136.0 389.8,135.9 389.9,135.8 390.0,135.7 390.1,135.6 390.2,135.5 390.3,135.4 390.4,135.3 390.5,135.2 390.6,135.1 390.7,135.0 390.8,134.8 390.9,134.7 390.9,134.6 391.0,134.5 391.1,134.4 391.2,134.3 391.3,134.2 391.4,134.1 391.5,133.9 391.6,133.8 391.7,133.7 391.8,133.6 391.9,133.5 392.0,133.4 392.1,133.3 392.2,133.2 392.2,133.1 392.3,132.9 392.4,132.8 392.5,132.7 392.6,132.6 392.7,132.5 392.8,132.4 392.9,132.3 393.0,132.2 393.1,132.0 393.2,131.9 393.3,131.8 393.4,131.7 393.5,131.6 393.5,131.5 393.6,131.4 393.7,131.3 393.8,131.2 393.9,131.0 394.0,130.9 394.1,130.8 394.2,130.7 394.3,130.6 394.4,130.5 394.5,130.4 394.6,130.3 394.7,130.1 394.8,130.0 394.8,129.9 394.9,129.8 395.0,129.7 395.1,129.6 395.2,129.5 395.3,129.4 395.4,129.3 395.5,129.1 395.6,129.0 395.7,128.9 395.8,128.8 395.9,128.7 396.0,128.6 396.1,128.5 396.1,128.4 396.2,128.2 396.3,128.1 396.4,128.0 396.5,127.9 396.6,127.8 396.7,127.7 396.8,127.6 396.9,127.5 397.0,127.4 397.1,127.2 397.2,127.1 397.3,127.0 397.4,126.9 397.4,126.8 397.5,126.7 397.6,126.6 397.7,126.5 397.8,126.4 397.9,126.2 398.0,126.1 398.1,126.0 398.2,125.9 398.3,125.8 398.4,125.7 398.5,125.6 398.6,125.5 398.7,125.3 398.7,125.2 398.8,125.1 398.9,125.0 399.0,124.9 399.1,124.8 399.2,124.7 399.3,124.6 399.4,124.5 399.5,124.3 399.6,124.2 399.7,124.1 399.8,124.0 399.9,123.9 400.0,123.8 400.0,123.7 400.1,123.6 400.2,123.5 400.3,123.4 400.4,123.2 400.5,123.1 400.6,123.0 400.7,122.9 400.8,122.8 400.9,122.7 401.0,122.6 401.1,122.5 401.2,122.4 401.3,122.2 401.3,122.1 401.4,122.0 401.5,121.9 401.6,121.8 401.7,121.7 401.8,121.6 401.9,121.5 402.0,121.4 402.1,121.3 402.2,121.1 402.3,121.0 402.4,120.9 402.5,120.8 402.6,120.7 402.6,120.6 402.7,120.5 402.8,120.4 402.9,120.3 403.0,120.2 403.1,120.0 403.2,119.9 403.3,119.8 403.4,119.7 403.5,119.6 403.6,119.5 403.7,119.4 403.8,119.3 403.9,119.2 403.9,119.1 404.0,118.9 404.1,118.8 404.2,118.7 404.3,118.6 404.4,118.5 404.5,118.4 404.6,118.3 404.7,118.2 404.8,118.1 404.9,118.0 405.0,117.9 405.1,117.8 405.2,117.6 405.2,117.5 405.3,117.4 405.4,117.3 405.5,117.2 405.6,117.1 405.7,117.0 405.8,116.9 405.9,116.8 406.0,116.7 406.1,116.6 406.2,116.5 406.3,116.4 406.4,116.3 406.5,116.2 406.5,116.1 406.6,116.0 406.7,115.9 406.8,115.8 406.9,115.7 407.0,115.6 407.1,115.5 407.2,115.4 407.3,115.3 407.4,115.2 407.5,115.1 407.6,114.9 407.7,114.8 407.8,114.7 407.8,114.6 407.9,114.5 408.0,114.4 408.1,114.3 408.2,114.2 408.3,114.1 408.4,114.0 408.5,113.9 408.6,113.8 408.7,113.7 408.8,113.6 408.9,113.5 409.0,113.4 409.1,113.3 409.1,113.2 409.2,113.1 409.3,113.0 409.4,112.9 409.5,112.8 409.6,112.7 409.7,112.6 409.8,112.5 409.9,112.4 410.0,112.3 410.1,112.2 410.2,112.1 410.3,112.0 410.4,111.9 410.4,111.8 410.5,111.7 410.6,111.6 410.7,111.5 410.8,111.4 410.9,111.3 411.0,111.2 411.1,111.1 411.2,111.0 411.3,110.9 411.4,110.8 411.5,110.8 411.6,110.7 411.7,110.6 411.7,110.5 411.8,110.4 411.9,110.3 412.0,110.2 412.1,110.1 412.2,110.0 412.3,110.0 412.4,109.9 412.5,109.8 412.6,109.7 412.7,109.6 412.8,109.5 412.9,109.5 412.9,109.4 413.0,109.3 413.1,109.2 413.2,109.1 413.3,109.0 413.4,108.9 413.5,108.9 413.6,108.8 413.7,108.7 413.8,108.6 413.9,108.5 414.0,108.5 414.1,108.4 414.2,108.3 414.2,108.2 414.3,108.1 414.4,108.0 414.5,108.0 414.6,107.9 414.7,107.8 414.8,107.7 414.9,107.6 415.0,107.6 415.1,107.5 415.2,107.4 415.3,107.3 415.4,107.2 415.5,107.2 415.5,107.1 415.6,107.0 415.7,106.9 415.8,106.9 415.9,106.8 416.0,106.7 416.1,106.6 416.2,106.6 416.3,106.5 416.4,106.5 416.5,106.4 416.6,106.4 416.7,106.3 416.8,106.3 416.8,106.2 416.9,106.2 417.0,106.1 417.1,106.1 417.2,106.0 417.3,106.0 417.4,105.9 417.5,105.9 417.6,105.8 417.7,105.8 417.8,105.7 417.9,105.7 418.0,105.6 418.1,105.6 418.1,105.5 418.2,105.5 418.3,105.5 418.4,105.4 418.5,105.4 418.6,105.3 418.7,105.3 418.8,105.2 418.9,105.2 419.0,105.2 419.1,105.1 419.2,105.1 419.3,105.0 419.4,105.0 419.4,105.0 419.5,104.9 419.6,104.9 419.7,104.8 419.8,104.8 419.9,104.8 420.0,104.7 420.1,104.7 420.2,104.7 420.3,104.7 420.4,104.6 420.5,104.6 420.6,104.6 420.7,104.6 420.7,104.6 420.8,104.6 420.9,104.6 421.0,104.6 421.1,104.6 421.2,104.6 421.3,104.5 421.4,104.5 421.5,104.5 421.6,104.5 421.7,104.5 421.8,104.5 421.9,104.5 422.0,104.5 422.0,104.5 422.1,104.5 422.2,104.5 422.3,104.5 422.4,104.5 422.5,104.5 422.6,104.5 422.7,104.6 422.8,104.6 422.9,104.6 423.0,104.6 423.1,104.6 423.2,104.6 423.3,104.6 423.3,104.7 423.4,104.7 423.5,104.7 423.6,104.7" fill="none" stroke="#7e7e7e" stroke-width="2.6" stroke-linejoin="round"/>
<polyline points="312.2,211.2 410.9,132.9" fill="none" stroke="#000" stroke-width="1.8" stroke-dasharray="6.6 3.5" stroke-linejoin="round"/>
<polyline points="89.5,322.0 102.2,322.0 120.3,322.0 133.6,321.9 145.0,321.8 154.4,321.6 162.6,321.1 169.8,320.3 176.3,319.2 182.2,317.8 187.7,316.0 192.9,313.9 197.7,311.6 202.3,308.9 206.6,306.2 210.8,303.3 214.9,300.4 218.8,297.4 222.6,294.5 226.3,291.6 229.9,288.8 233.4,286.0 236.9,283.2 240.3,280.6 243.7,278.1 247.0,275.7 250.4,273.4 253.6,271.2 256.9,269.1 260.2,267.1 263.4,265.2 266.7,263.4 269.9,261.6 273.2,260.0 276.4,258.4 279.7,257.0 283.0,255.6 286.3,254.3 289.6,253.0 293.0,251.9 296.4,250.7 299.8,249.7 303.2,248.6 306.7,247.7 310.3,246.8 313.9,246.0 317.5,245.3 321.2,244.7 325.0,244.2 328.8,243.8 332.7,243.4 336.6,243.2 340.7,243.0 340.9,243.0" fill="none" stroke="none" marker-start="url(#saf)" marker-mid="url(#saf)" marker-end="url(#saf)"/>
<polyline points="89.5,320.3 102.2,319.8 120.3,319.0 133.6,318.1 145.0,317.2 154.4,316.0 162.6,314.7 169.8,313.3 176.3,311.8 182.2,310.0 187.7,308.3 192.9,306.3 197.7,304.6 202.3,302.8 206.6,301.0 210.8,299.2 214.9,297.3 218.8,295.4 222.6,293.4 226.3,291.5 229.9,289.7 233.4,288.0 236.9,286.0 240.3,283.9 243.7,282.0 247.0,280.0 250.4,277.9 253.6,276.0 256.9,274.1 260.2,272.2 263.4,270.3 266.7,268.5 269.9,266.7 273.2,264.9 276.4,263.1 279.7,261.4 283.0,259.7 286.3,258.1 289.6,256.6 293.0,255.1 296.4,253.7 299.8,252.3 303.2,251.1 306.7,249.9 310.3,248.9 313.9,248.0 317.5,247.3 321.2,246.7 325.0,246.1 328.8,245.7 332.7,245.4 336.6,245.1 340.7,244.9 340.9,244.9" fill="none" stroke="none" marker-start="url(#sao)" marker-mid="url(#sao)" marker-end="url(#sao)"/>
<polyline points="89.5,319.0 112.6,317.3 128.3,315.8 140.2,314.3 149.9,312.6 158.0,310.8 165.1,309.0 171.3,307.3 176.8,305.6 181.8,303.6 186.5,301.9 190.7,300.2 194.6,298.7 198.3,297.5 201.8,296.3 205.1,295.3 208.2,294.2 211.1,293.1 213.9,292.0 216.6,291.0 219.1,289.9 221.6,288.8 224.0,287.8 226.2,286.7 228.4,285.6 230.6,284.4 232.6,283.2 234.6,282.1 236.6,280.7 238.4,279.4 240.3,278.1 242.0,276.8 243.8,275.6 245.5,274.4 247.1,273.1 248.8,271.9 250.3,270.6 251.9,269.5 253.4,268.3 254.9,267.2 256.4,266.1 257.8,265.0 259.2,263.9 260.6,262.8 261.9,261.7 263.3,260.7 264.6,259.7 265.9,258.7 267.2,257.8 268.4,256.8 269.6,255.9 270.9,255.0 272.1,254.1 273.2,253.3 274.4,252.4 275.6,251.5 276.7,250.6 277.8,249.8 278.9,248.9 280.0,248.1 281.1,247.3 282.2,246.5 283.2,245.7 284.3,244.9 285.3,244.1 286.4,243.4 287.4,242.6 288.4,241.9 289.4,241.1 290.4,240.4 291.4,239.7 292.3,239.0 293.3,238.3 294.2,237.5 295.2,236.8 296.1,236.2 297.0,235.5 298.0,234.8 298.9,234.1 299.8,233.4 300.7,232.8 301.6,232.1 302.5,231.4 303.3,230.8 304.2,230.2 305.1,229.5 305.9,228.9 306.8,228.3 307.6,227.7 308.5,227.0 309.3,226.4 310.2,225.8 311.0,225.3 311.8,224.7 312.6,224.1 313.4,223.5 314.2,223.0 315.1,222.4 315.9,221.8 316.6,221.3 317.4,220.7 318.2,220.2 319.0,219.6 319.8,219.1 320.6,218.5 321.3,218.0 322.1,217.4 322.9,216.9 323.6,216.4 324.4,215.9 325.1,215.3 325.9,214.8 326.6,214.3 327.4,213.8 328.1,213.3 328.8,212.8 329.6,212.3 330.3,211.9 331.0,211.4 331.7,210.9 332.5,210.5 333.2,210.0 333.9,209.6 334.6,209.1 335.3,208.7 336.0,208.3 336.7,207.9 337.4,207.5 338.1,207.1 338.8,206.7 339.5,206.3 340.2,205.9 340.9,205.5 341.6,205.2 342.3,204.8 343.0,204.5 343.6,204.1 344.3,203.8 345.0,203.5 345.7,203.2 346.3,202.9 347.0,202.6 347.7,202.3 348.4,202.0 349.0,201.8 349.7,201.5 350.3,201.3 351.0,201.0 351.7,200.8 352.3,200.6 353.0,200.4 353.6,200.2 354.3,200.0 354.9,199.8 355.6,199.6 356.2,199.4 356.9,199.3 357.5,199.1 358.2,198.9 358.8,198.8 359.4,198.6 360.1,198.5 360.7,198.4 361.3,198.2 362.0,198.1 362.6,198.0 363.2,197.8 363.9,197.7 364.5,197.6 365.1,197.5 365.7,197.4 366.4,197.3 367.0,197.2 367.6,197.1 368.2,197.0 368.8,197.0 369.5,196.9 370.1,196.8 370.7,196.8 371.3,196.8 371.9,196.7 372.5,196.7 373.2,196.7 373.8,196.6 374.4,196.6 375.0,196.6 375.6,196.6 376.2,196.6 376.8,196.6 377.4,196.6 378.0,196.6 378.6,196.6 379.2,196.7 379.8,196.7 380.4,196.7 381.0,196.7 381.6,196.7 382.2,196.8 382.8,196.8 383.4,196.8 384.0,196.8 384.6,196.9 385.2,196.9 385.8,196.9 386.4,196.9 387.0,197.0 387.6,197.0 388.1,197.0 388.7,197.0 389.3,197.0 389.9,197.1 390.5,197.1 391.1,197.1 391.7,197.1 392.2,197.1 392.8,197.1 393.4,197.1 394.0,197.1 394.6,197.1 394.7,197.1" fill="none" stroke="none" marker-start="url(#tao)" marker-mid="url(#tao)" marker-end="url(#tao)"/>
<polyline points="89.5,322.0 112.6,322.0 128.3,322.0 140.2,321.9 149.9,321.7 158.0,321.3 165.1,320.7 171.3,319.9 176.8,318.8 181.8,317.4 186.5,315.8 190.7,313.9 194.6,311.9 198.3,309.7 201.8,307.4 205.1,305.1 208.2,302.7 211.1,300.4 213.9,298.0 216.6,295.7 219.1,293.4 221.6,291.2 224.0,289.0 226.2,286.9 228.4,284.8 230.6,282.8 232.6,280.9 234.6,279.0 236.6,277.1 238.4,275.4 240.3,273.7 242.0,272.0 243.8,270.4 245.5,268.9 247.1,267.4 248.8,266.0 250.3,264.6 251.9,263.2 253.4,261.9 254.9,260.7 256.4,259.4 257.8,258.3 259.2,257.1 260.6,256.0 261.9,254.9 263.3,253.8 264.6,252.8 265.9,251.8 267.2,250.8 268.4,249.9 269.6,248.9 270.9,248.0 272.1,247.2 273.2,246.3 274.4,245.4 275.6,244.6 276.7,243.8 277.8,243.0 278.9,242.2 280.0,241.5 281.1,240.7 282.2,240.0 283.2,239.3 284.3,238.6 285.3,237.9 286.4,237.2 287.4,236.6 288.4,235.9 289.4,235.3 290.4,234.6 291.4,234.0 292.3,233.4 293.3,232.8 294.2,232.2 295.2,231.6 296.1,231.0 297.0,230.4 298.0,229.8 298.9,229.2 299.8,228.6 300.7,228.1 301.6,227.5 302.5,227.0 303.3,226.4 304.2,225.9 305.1,225.4 305.9,224.8 306.8,224.3 307.6,223.8 308.5,223.3 309.3,222.8 310.2,222.3 311.0,221.8 311.8,221.3 312.6,220.8 313.4,220.3 314.2,219.8 315.1,219.4 315.9,218.9 316.6,218.4 317.4,217.9 318.2,217.5 319.0,217.0 319.8,216.5 320.6,216.1 321.3,215.6 322.1,215.1 322.9,214.7 323.6,214.2 324.4,213.8 325.1,213.4 325.9,212.9 326.6,212.5 327.4,212.1 328.1,211.6 328.8,211.2 329.6,210.8 330.3,210.4 331.0,210.0 331.7,209.6 332.5,209.2 333.2,208.8 333.9,208.4 334.6,208.0 335.3,207.7 336.0,207.3 336.7,206.9 337.4,206.6 338.1,206.2 338.8,205.9 339.5,205.5 340.2,205.2 340.9,204.9 341.6,204.6 342.3,204.3 343.0,204.0 343.6,203.7 344.3,203.4 345.0,203.1 345.7,202.8 346.3,202.6 347.0,202.3 347.7,202.1 348.4,201.8 349.0,201.6 349.7,201.4 350.3,201.1 351.0,200.9 351.7,200.7 352.3,200.5 353.0,200.3 353.6,200.1 354.3,199.9 354.9,199.8 355.6,199.6 356.2,199.4 356.9,199.3 357.5,199.1 358.2,198.9 358.8,198.8 359.4,198.6 360.1,198.5 360.7,198.4 361.3,198.2 362.0,198.1 362.6,198.0 363.2,197.8 363.9,197.7 364.5,197.6 365.1,197.5 365.7,197.4 366.4,197.3 367.0,197.2 367.6,197.1 368.2,197.0 368.8,197.0 369.5,196.9 370.1,196.8 370.7,196.8 371.3,196.8 371.9,196.7 372.5,196.7 373.2,196.7 373.8,196.6 374.4,196.6 375.0,196.6 375.6,196.6 376.2,196.6 376.8,196.6 377.4,196.6 378.0,196.6 378.6,196.6 379.2,196.7 379.8,196.7 380.4,196.7 381.0,196.7 381.6,196.7 382.2,196.8 382.8,196.8 383.4,196.8 384.0,196.8 384.6,196.9 385.2,196.9 385.8,196.9 386.4,196.9 387.0,197.0 387.6,197.0 388.1,197.0 388.7,197.0 389.3,197.0 389.9,197.1 390.5,197.1 391.1,197.1 391.7,197.1 392.2,197.1 392.8,197.1 393.4,197.1 394.0,197.1 394.6,197.1 394.7,197.1" fill="none" stroke="none" marker-start="url(#taf)" marker-mid="url(#taf)" marker-end="url(#taf)"/>
<polyline points="89.5,319.2 112.6,317.6 128.3,316.2 140.2,314.8 149.9,313.2 158.0,311.5 165.1,309.7 171.3,308.0 176.8,306.4 181.8,304.4 186.5,302.7 190.7,300.9 194.6,299.3 198.3,298.0 201.8,296.6 205.1,295.4 208.2,294.2 211.1,292.9 213.9,291.7 216.6,290.5 219.1,289.2 221.6,288.0 224.0,286.8 226.2,285.6 228.4,284.3 230.6,283.1 232.6,281.8 234.6,280.6 236.6,279.1 238.4,277.7 240.3,276.3 242.0,275.0 243.8,273.7 245.5,272.4 247.1,271.0 248.8,269.7 250.3,268.4 251.9,267.1 253.4,265.9 254.9,264.7 256.4,263.5 257.8,262.4 259.2,261.2 260.6,260.0 261.9,258.8 263.3,257.7 264.6,256.6 265.9,255.6 267.2,254.6 268.4,253.5 269.6,252.6 270.9,251.6 272.1,250.6 273.2,249.7 274.4,248.7 275.6,247.7 276.7,246.8 277.8,245.9 278.9,244.9 280.0,244.0 281.1,243.1 282.2,242.2 283.2,241.4 284.3,240.5 285.3,239.6 286.4,238.8 287.4,238.0 288.4,237.1 289.4,236.3 290.4,235.5 291.4,234.7 292.3,233.9 293.3,233.1 294.2,232.3 295.2,231.5 296.1,230.8 297.0,230.0 298.0,229.2 298.9,228.5 299.8,227.7 300.7,227.0 301.6,226.2 302.5,225.5 303.3,224.7 304.2,224.0 305.1,223.3 305.9,222.6 306.8,221.9 307.6,221.2 308.5,220.5 309.3,219.8 310.2,219.1 311.0,218.4 311.8,217.7 312.6,217.1 313.4,216.4 314.2,215.8 315.1,215.2 315.9,214.6 316.6,214.0 317.4,213.4 318.2,212.8 319.0,212.3 319.8,211.8 320.6,211.2 321.3,210.7 322.1,210.2 322.9,209.7 323.6,209.2 324.4,208.8 325.1,208.3 325.9,207.8 326.6,207.4 327.4,206.9 328.1,206.5 328.8,206.0 329.6,205.6 330.3,205.1 331.0,204.7 331.7,204.3 332.5,203.8 333.2,203.4 333.9,203.0 334.6,202.6 335.3,202.2 336.0,201.7 336.7,201.3 337.4,200.9 338.1,200.5 338.8,200.0 339.5,199.6 340.2,199.2 340.9,198.8 341.6,198.3 342.3,197.9 343.0,197.5 343.6,197.0 344.3,196.6 345.0,196.2 345.7,195.8 346.3,195.4 347.0,195.0 347.7,194.6 348.4,194.2 349.0,193.8 349.7,193.4 350.3,193.0 351.0,192.7 351.7,192.3 352.3,191.9 353.0,191.6 353.6,191.2 354.3,190.9 354.9,190.5 355.6,190.2 356.2,189.9 356.9,189.5 357.5,189.2 358.2,188.9 358.8,188.6 359.4,188.2 360.1,187.9 360.7,187.6 361.3,187.3 362.0,186.9 362.6,186.6 363.2,186.3 363.9,186.0 364.5,185.7 365.1,185.4 365.7,185.0 366.4,184.7 367.0,184.4 367.6,184.1 368.2,183.8 368.8,183.5 369.5,183.2 370.1,182.9 370.7,182.6 371.3,182.3 371.9,182.0 372.5,181.7 373.2,181.4 373.8,181.2 374.4,180.9 375.0,180.6 375.6,180.3 376.2,180.1 376.8,179.8 377.4,179.5 378.0,179.3 378.6,179.0 379.2,178.8 379.8,178.5 380.4,178.3 381.0,178.0 381.6,177.8 382.2,177.6 382.8,177.3 383.4,177.1 384.0,176.9 384.6,176.7 385.2,176.5 385.8,176.3 386.4,176.1 387.0,175.9 387.6,175.7 388.1,175.5 388.7,175.3 389.3,175.1 389.9,175.0 390.5,174.8 391.1,174.6 391.7,174.5 392.2,174.3 392.8,174.2 393.4,174.0 394.0,173.9 394.6,173.8 395.2,173.6 395.7,173.5 396.3,173.4 396.9,173.3 397.5,173.2 398.1,173.1 398.6,173.0 399.2,172.9 399.8,172.9 400.4,172.8 400.9,172.7 401.5,172.6 402.1,172.6 402.7,172.5 403.2,172.5 403.8,172.4 404.4,172.3 405.0,172.3 405.5,172.2 406.1,172.2 406.7,172.2 407.2,172.1 407.8,172.1 408.4,172.0 408.9,172.0 409.5,172.0 410.1,171.9 410.7,171.9 411.2,171.9 411.8,171.9 412.3,171.9 412.9,171.8 413.5,171.8 414.0,171.8 414.6,171.8 415.2,171.8 415.7,171.8 416.3,171.8 416.9,171.8 417.4,171.7 418.0,171.7 418.5,171.7 419.1,171.7 419.7,171.7 420.2,171.7 420.8,171.7 421.3,171.7 421.9,171.7 422.5,171.7 423.0,171.7 423.6,171.7 423.6,171.7" fill="none" stroke="none" marker-start="url(#cao)" marker-mid="url(#cao)" marker-end="url(#cao)"/>
<polyline points="89.5,322.0 112.6,322.0 128.3,322.0 140.2,321.9 149.9,321.7 158.0,321.3 165.1,320.7 171.3,319.8 176.8,318.7 181.8,317.3 186.5,315.6 190.7,313.7 194.6,311.6 198.3,309.4 201.8,307.0 205.1,304.6 208.2,302.1 211.1,299.7 213.9,297.3 216.6,294.9 219.1,292.5 221.6,290.2 224.0,287.9 226.2,285.7 228.4,283.6 230.6,281.5 232.6,279.5 234.6,277.5 236.6,275.5 238.4,273.7 240.3,271.9 242.0,270.2 243.8,268.5 245.5,266.9 247.1,265.3 248.8,263.8 250.3,262.3 251.9,260.9 253.4,259.5 254.9,258.2 256.4,256.9 257.8,255.6 259.2,254.4 260.6,253.2 261.9,252.0 263.3,250.9 264.6,249.7 265.9,248.7 267.2,247.6 268.4,246.6 269.6,245.6 270.9,244.6 272.1,243.6 273.2,242.7 274.4,241.7 275.6,240.8 276.7,240.0 277.8,239.1 278.9,238.2 280.0,237.4 281.1,236.6 282.2,235.8 283.2,235.0 284.3,234.2 285.3,233.4 286.4,232.7 287.4,231.9 288.4,231.2 289.4,230.5 290.4,229.7 291.4,229.0 292.3,228.3 293.3,227.6 294.2,226.9 295.2,226.3 296.1,225.6 297.0,224.9 298.0,224.2 298.9,223.6 299.8,222.9 300.7,222.3 301.6,221.6 302.5,221.0 303.3,220.4 304.2,219.7 305.1,219.1 305.9,218.5 306.8,217.9 307.6,217.3 308.5,216.7 309.3,216.1 310.2,215.5 311.0,214.9 311.8,214.3 312.6,213.8 313.4,213.2 314.2,212.7 315.1,212.1 315.9,211.6 316.6,211.1 317.4,210.6 318.2,210.2 319.0,209.7 319.8,209.2 320.6,208.8 321.3,208.4 322.1,207.9 322.9,207.5 323.6,207.1 324.4,206.7 325.1,206.3 325.9,205.9 326.6,205.5 327.4,205.1 328.1,204.8 328.8,204.4 329.6,204.0 330.3,203.7 331.0,203.3 331.7,202.9 332.5,202.6 333.2,202.2 333.9,201.8 334.6,201.5 335.3,201.1 336.0,200.7 336.7,200.4 337.4,200.0 338.1,199.6 338.8,199.3 339.5,198.9 340.2,198.5 340.9,198.1 341.6,197.8 342.3,197.4 343.0,197.0 343.6,196.6 344.3,196.2 345.0,195.8 345.7,195.4 346.3,195.1 347.0,194.7 347.7,194.3 348.4,193.9 349.0,193.6 349.7,193.2 350.3,192.9 351.0,192.5 351.7,192.2 352.3,191.9 353.0,191.5 353.6,191.2 354.3,190.9 354.9,190.5 355.6,190.2 356.2,189.9 356.9,189.5 357.5,189.2 358.2,188.9 358.8,188.6 359.4,188.2 360.1,187.9 360.7,187.6 361.3,187.3 362.0,186.9 362.6,186.6 363.2,186.3 363.9,186.0 364.5,185.7 365.1,185.4 365.7,185.0 366.4,184.7 367.0,184.4 367.6,184.1 368.2,183.8 368.8,183.5 369.5,183.2 370.1,182.9 370.7,182.6 371.3,182.3 371.9,182.0 372.5,181.7 373.2,181.4 373.8,181.2 374.4,180.9 375.0,180.6 375.6,180.3 376.2,180.1 376.8,179.8 377.4,179.5 378.0,179.3 378.6,179.0 379.2,178.8 379.8,178.5 380.4,178.3 381.0,178.0 381.6,177.8 382.2,177.6 382.8,177.3 383.4,177.1 384.0,176.9 384.6,176.7 385.2,176.5 385.8,176.3 386.4,176.1 387.0,175.9 387.6,175.7 388.1,175.5 388.7,175.3 389.3,175.1 389.9,175.0 390.5,174.8 391.1,174.6 391.7,174.5 392.2,174.3 392.8,174.2 393.4,174.0 394.0,173.9 394.6,173.8 395.2,173.6 395.7,173.5 396.3,173.4 396.9,173.3 397.5,173.2 398.1,173.1 398.6,173.0 399.2,172.9 399.8,172.9 400.4,172.8 400.9,172.7 401.5,172.6 402.1,172.6 402.7,172.5 403.2,172.5 403.8,172.4 404.4,172.3 405.0,172.3 405.5,172.2 406.1,172.2 406.7,172.2 407.2,172.1 407.8,172.1 408.4,172.0 408.9,172.0 409.5,172.0 410.1,171.9 410.7,171.9 411.2,171.9 411.8,171.9 412.3,171.9 412.9,171.8 413.5,171.8 414.0,171.8 414.6,171.8 415.2,171.8 415.7,171.8 416.3,171.8 416.9,171.8 417.4,171.7 418.0,171.7 418.5,171.7 419.1,171.7 419.7,171.7 420.2,171.7 420.8,171.7 421.3,171.7 421.9,171.7 422.5,171.7 423.0,171.7 423.6,171.7 423.6,171.7" fill="none" stroke="none" marker-start="url(#caf)" marker-mid="url(#caf)" marker-end="url(#caf)"/>
</g>
<g clip-path="url(#clipb)">
<polyline points="799.7,328.5 800.5,327.1 801.3,325.8 802.1,324.5 802.8,323.2 803.6,321.9 804.4,320.6 805.2,319.3 806.0,318.0 806.8,316.7 807.6,315.5 808.4,314.2 809.2,312.9 810.0,311.7 810.8,310.5 811.6,309.2 812.4,308.0 813.2,306.8 814.0,305.6 814.8,304.4 815.6,303.2 816.4,302.0 817.1,300.8 817.9,299.6 818.7,298.5 819.5,297.3 820.3,296.2 821.1,295.0 821.9,293.9 822.7,292.8 823.5,291.7 824.3,290.6 825.1,289.5 825.9,288.4 826.7,287.3 827.5,286.2 828.3,285.2 829.1,284.1 829.9,283.1 830.6,282.0 831.4,281.0 832.2,280.0 833.0,279.0 833.8,277.9 834.6,276.9 835.4,276.0 836.2,275.0 837.0,274.0 837.8,273.0 838.6,272.1 839.4,271.1 840.2,270.2 841.0,269.2 841.8,268.3 842.6,267.4 843.4,266.4 844.2,265.5 844.9,264.6 845.7,263.7 846.5,262.8 847.3,261.9 848.1,261.1 848.9,260.2 849.7,259.3 850.5,258.5 851.3,257.6 852.1,256.8 852.9,255.9 853.7,255.1 854.5,254.3 855.3,253.4 856.1,252.6 856.9,251.8 857.7,251.0 858.4,250.2 859.2,249.4 860.0,248.6 860.8,247.8 861.6,247.0 862.4,246.2 863.2,245.5 864.0,244.7 864.8,243.9 865.6,243.2 866.4,242.4 867.2,241.6 868.0,240.9 868.8,240.1 869.6,239.4 870.4,238.7 871.2,237.9 872.0,237.2 872.7,236.5 873.5,235.7 874.3,235.0 875.1,234.3 875.9,233.6 876.7,232.9 877.5,232.2 878.3,231.5 879.1,230.8 879.9,230.1 880.7,229.4 881.5,228.7 882.3,228.0 883.1,227.3 883.9,226.6 884.7,225.9 885.5,225.2 886.2,224.5 887.0,223.8 887.8,223.2 888.6,222.5 889.4,221.8 890.2,221.1 891.0,220.5 891.8,219.8 892.6,219.1 893.4,218.5 894.2,217.8 895.0,217.1 895.8,216.5 896.6,215.8 897.4,215.1 898.2,214.5 899.0,213.8 899.8,213.2 900.5,212.5 901.3,211.8 902.1,211.2 902.9,210.5 903.7,209.9 904.5,209.2 905.3,208.6 906.1,207.9 906.9,207.3 907.7,206.6 908.5,205.9 909.3,205.3 910.1,204.6 910.9,204.0 911.7,203.3 912.5,202.7 913.3,202.0 914.1,201.4 914.8,200.7 915.6,200.0 916.4,199.4 917.2,198.7 918.0,198.1 918.8,197.4 919.6,196.8 920.4,196.1 921.2,195.4 922.0,194.8 922.8,194.1 923.6,193.5 924.4,192.8 925.2,192.1 926.0,191.5 926.8,190.8 927.6,190.1 928.3,189.5 929.1,188.8 929.9,188.1 930.7,187.4 931.5,186.8 932.3,186.1 933.1,185.4 933.9,184.7 934.7,184.0 935.5,183.4 936.3,182.7 937.1,182.0 937.9,181.3 938.7,180.6 939.5,179.9 940.3,179.2 941.1,178.5 941.9,177.8 942.6,177.1 943.4,176.4 944.2,175.7 945.0,175.0 945.8,174.3 946.6,173.6 947.4,172.9 948.2,172.2 949.0,171.4 949.8,170.7 950.6,170.0 951.4,169.2 952.2,168.5 953.0,167.8 953.8,167.0 954.6,166.3 955.4,165.5 956.1,164.8 956.9,164.0 957.7,163.3 958.5,162.5 959.3,161.7 960.1,161.0 960.9,160.2 961.7,159.4 962.5,158.6 963.3,157.8 964.1,157.1 964.9,156.3 965.7,155.4 966.5,154.6 967.3,153.8 968.1,153.0 968.9,152.2 969.7,151.3 970.4,150.5 971.2,149.7 972.0,148.8 972.8,148.0 973.6,147.1 974.4,146.2 975.2,145.4 976.0,144.5 976.8,143.6 977.6,142.7 978.4,141.8 979.2,140.9 980.0,140.0 980.8,139.1 981.6,138.1 982.4,137.2 983.2,136.2 983.9,135.3 984.7,134.3 985.5,133.4 986.3,132.4 987.1,131.4 987.9,130.4 988.7,129.4 989.5,128.4 990.3,127.4 991.1,126.4 991.9,125.3 992.7,124.3 993.5,123.3 994.3,122.2 995.1,121.1 995.9,120.1 996.7,119.0 997.5,117.9 998.2,116.8 999.0,115.7 999.8,114.6 1000.6,113.5 1001.4,112.4 1002.2,111.3 1003.0,110.1 1003.8,109.0 1004.6,107.9 1005.4,106.7 1006.2,105.6 1007.0,104.5 1007.8,103.3 1008.6,102.2 1009.4,101.0 1010.2,99.9 1011.0,98.7 1011.7,97.6 1012.5,96.5 1013.3,95.3 1014.1,94.2 1014.9,93.1 1015.7,92.0 1016.5,90.9 1017.3,89.8 1018.1,88.7 1018.9,87.7 1019.7,86.7 1020.5,85.6 1021.3,84.7 1022.1,83.7 1022.9,82.8 1023.7,81.9 1024.5,81.0 1025.3,80.2 1026.0,79.5 1026.8,78.9 1027.6,78.3 1028.4,77.9 1029.2,77.5 1030.0,77.2 1030.8,76.9 1031.6,76.7 1032.4,76.6 1033.2,76.5 1034.0,76.4 1034.8,76.3 1035.6,76.3 1036.4,76.2 1037.2,76.2 1038.0,76.2 1038.8,76.2 1039.5,76.2 1040.3,76.2 1041.1,76.2 1041.9,76.2 1042.7,76.2 1043.5,76.2 1044.3,76.2 1045.1,76.2 1045.9,76.2 1046.7,76.2 1047.5,76.2 1048.3,76.2 1049.1,76.2 1049.9,76.2 1050.7,76.2 1051.5,76.2 1052.3,76.2 1053.1,76.2 1053.8,76.2 1054.6,76.2 1055.4,76.2 1056.2,76.2 1057.0,76.2 1057.8,76.2 1058.6,76.2 1059.4,76.2 1060.2,76.2 1061.0,76.2 1061.8,76.2 1062.6,76.2 1063.4,76.2 1064.2,76.2 1065.0,76.2 1065.8,76.2 1066.6,76.2 1067.3,76.2 1068.1,76.2 1068.9,76.2 1069.7,76.2 1070.5,76.2 1071.3,76.2 1072.1,76.2 1072.9,76.2 1073.7,76.2 1074.5,76.2 1075.3,76.2 1076.1,76.2 1076.9,76.2 1077.7,76.2 1078.5,76.2 1079.3,76.2 1080.1,76.2 1080.9,76.2" fill="none" stroke="#7e7e7e" stroke-width="2.6" stroke-linejoin="round"/>
<polyline points="907.2,211.2 1050.9,97.1" fill="none" stroke="#000" stroke-width="1.8" stroke-dasharray="6.6 3.5" stroke-linejoin="round"/>
<polyline points="703.3,322.0 731.1,321.9 752.7,321.3 770.3,318.6 785.2,311.5 798.1,302.0 809.5,291.6 819.7,281.8 828.9,273.4 837.3,266.0 845.0,259.3 852.2,253.0 858.8,246.9 865.1,241.5 870.9,236.9 876.4,232.7 881.6,228.9 886.6,225.3 891.3,221.9 895.7,218.6 900.0,215.3 904.1,212.1 908.0,209.0 911.8,206.1 915.4,203.2 918.9,200.6 922.3,198.1 925.5,195.8 928.6,193.8 931.7,192.2 934.6,190.9 937.5,189.9 940.2,189.2 942.9,188.7 945.5,188.3 948.0,188.0 950.5,187.8 952.9,187.6 955.2,187.5 957.5,187.4 959.8,187.3 961.9,187.3 964.0,187.2 966.1,187.2 968.1,187.2 970.1,187.2 972.1,187.1 974.0,187.1 975.8,187.1 977.6,187.1 979.4,187.1 981.1,187.1 982.9,187.1 984.5,187.1 986.2,187.1 987.8,187.1 989.4,187.1 990.9,187.1 992.5,187.1 994.0,187.1 995.4,187.1 996.9,187.1 998.3,187.1 999.7,187.1 1001.1,187.1 1002.4,187.1 1003.7,187.1 1005.1,187.1 1006.3,187.1 1007.6,187.1 1008.9,187.1 1010.1,187.1 1011.3,187.1 1012.5,187.1 1013.7,187.1 1014.8,187.1 1015.9,187.1 1017.1,187.1 1018.2,187.1 1019.3,187.1 1020.3,187.1 1021.4,187.1 1022.4,187.1 1023.5,187.1 1024.5,187.1 1025.5,187.1 1026.5,187.1 1027.4,187.1 1028.4,187.1 1029.3,187.1 1030.3,187.1 1031.2,187.1 1032.1,187.1 1033.0,187.1 1033.9,187.1 1034.7,187.1 1035.6,187.1 1036.5,187.1 1037.3,187.1 1038.1,187.1 1038.9,187.1 1039.7,187.1 1040.5,187.1 1041.3,187.1 1042.1,187.1 1042.9,187.1 1043.6,187.1 1044.4,187.1 1045.1,187.1 1045.9,187.1 1046.6,187.1 1047.3,187.1 1048.0,187.1 1048.7,187.1 1049.4,187.1 1050.0,187.1 1050.7,187.1 1051.4,187.1 1052.0,187.1 1052.7,187.1 1053.3,187.1 1053.9,187.1 1054.6,187.1 1055.2,187.1 1055.8,187.1 1056.4,187.1 1057.0,187.1 1057.6,187.1 1058.1,187.1 1058.7,187.1 1059.3,187.1 1059.8,187.1 1060.4,187.1 1060.9,187.1 1061.5,187.1 1062.0,187.1 1062.5,187.1 1063.0,187.1 1063.6,187.1 1064.1,187.1 1064.6,187.1 1065.1,187.1 1065.5,187.1 1066.0,187.1 1066.5,187.1 1067.0,187.1 1067.4,187.1 1067.9,187.1 1068.3,187.1 1068.8,187.1 1069.2,187.1 1069.7,187.1 1070.1,187.1 1070.5,187.1 1070.9,187.1 1071.3,187.1 1071.8,187.1 1072.2,187.1 1072.6,187.1 1072.9,187.1 1073.3,187.1 1073.7,187.1 1074.1,187.1 1074.5,187.1 1074.8,187.1 1075.2,187.1 1075.6,187.1 1075.9,187.1 1076.3,187.1 1076.6,187.1 1076.9,187.1 1077.3,187.1 1077.6,187.1 1077.9,187.1 1078.2,187.1 1078.5,187.1 1078.9,187.1 1079.2,187.1 1079.5,187.1 1079.8,187.1 1080.1,187.1 1080.3,187.1 1080.6,187.1 1080.9,187.1 1081.2,187.1 1081.4,187.1 1081.7,187.1 1082.0,187.1 1082.2,187.1 1082.5,187.1 1082.7,187.1 1083.0,187.1 1083.2,187.1 1083.4,187.1 1083.7,187.1 1083.9,187.1 1084.1,187.1 1084.3,187.1 1084.6,187.1 1084.8,187.1 1085.0,187.1 1085.2,187.1 1085.4,187.1 1085.6,187.1 1085.8,187.1 1086.0,187.1 1086.1,187.1 1086.3,187.1 1086.5,187.1 1086.7,187.1 1086.8,187.1 1087.0,187.1 1087.2,187.1 1087.3,187.1 1087.5,187.1 1087.6,187.1 1087.8,187.1 1087.9,187.1 1088.0,187.1 1088.2,187.1 1088.3,187.1 1088.4,187.1 1088.5,187.1 1088.7,187.1 1088.8,187.1 1088.9,187.1 1089.0,187.1 1089.1,187.1 1089.2,187.1 1089.3,187.1 1089.4,187.1 1089.5,187.1 1089.6,187.1 1089.6,187.1 1089.7,187.1 1089.8,187.1 1089.9,187.1 1089.9,187.1 1090.0,187.1 1090.0,187.1 1090.1,187.1 1090.2,187.1 1090.2,187.1 1090.3,187.1 1090.3,187.1 1090.3,187.1 1090.4,187.1 1090.4,187.1 1090.4,187.1 1090.4,187.1 1090.5,187.1 1090.5,187.1 1090.5,187.1 1090.5,187.1 1090.5,187.1 1090.5,187.1" fill="none" stroke="none" marker-start="url(#sbf)" marker-mid="url(#sbf)" marker-end="url(#sbf)"/>
<polyline points="703.3,317.5 731.1,314.5 752.7,310.4 770.3,304.9 785.2,297.1 798.1,290.9 809.5,285.6 819.7,280.9 828.9,276.7 837.3,271.5 845.0,266.1 852.2,258.8 858.8,252.7 865.1,247.4 870.9,242.8 876.4,238.6 881.6,234.8 886.6,231.3 891.3,227.9 895.7,224.7 900.0,221.5 904.1,218.3 908.0,215.4 911.8,212.6 915.4,209.9 918.9,207.4 922.3,205.1 925.5,203.0 928.6,201.2 931.7,199.6 934.6,198.3 937.5,197.2 940.2,196.4 942.9,195.7 945.5,195.2 948.0,194.8 950.5,194.4 952.9,194.1 955.2,193.9 957.5,193.7 959.8,193.6 961.9,193.5 964.0,193.4 966.1,193.3 968.1,193.2 970.1,193.2 972.1,193.2 974.0,193.1 975.8,193.1 977.6,193.1 979.4,193.0 981.1,193.0 982.9,193.0 984.5,193.0 986.2,193.0 987.8,193.0 989.4,193.0 990.9,193.0 992.5,193.0 994.0,193.0 995.4,193.0 996.9,193.0 998.3,193.0 999.7,193.0 1001.1,192.9 1002.4,192.9 1003.7,192.9 1005.1,192.9 1006.3,192.9 1007.6,192.9 1008.9,192.9 1010.1,192.9 1011.3,192.9 1012.5,192.9 1013.7,192.9 1014.8,192.9 1015.9,192.9 1017.1,192.9 1018.2,192.9 1019.3,192.9 1020.3,192.9 1021.4,192.9 1022.4,192.9 1023.5,192.9 1024.5,192.9 1025.5,192.9 1026.5,192.9 1027.4,192.9 1028.4,192.9 1029.3,192.9 1030.3,192.9 1031.2,192.9 1032.1,192.9 1033.0,192.9 1033.9,192.9 1034.7,192.9 1035.6,192.9 1036.5,192.9 1037.3,192.9 1038.1,192.9 1038.9,192.9 1039.7,192.9 1040.5,192.9 1041.3,192.9 1042.1,192.9 1042.9,192.9 1043.6,192.9 1044.4,192.9 1045.1,192.9 1045.9,192.9 1046.6,192.9 1047.3,192.9 1048.0,192.9 1048.7,192.9 1049.4,192.9 1050.0,192.9 1050.7,192.9 1051.4,192.9 1052.0,192.9 1052.7,192.9 1053.3,192.9 1053.9,192.9 1054.6,192.9 1055.2,192.9 1055.8,192.9 1056.4,192.9 1057.0,192.9 1057.6,192.9 1058.1,192.9 1058.7,192.9 1059.3,192.9 1059.8,192.9 1060.4,192.9 1060.9,192.9 1061.5,192.9 1062.0,192.9 1062.5,192.9 1063.0,192.9 1063.6,192.9 1064.1,192.9 1064.6,192.9 1065.1,192.9 1065.5,192.9 1066.0,192.9 1066.5,192.9 1067.0,192.9 1067.4,192.9 1067.9,192.9 1068.3,192.9 1068.8,192.9 1069.2,192.9 1069.7,192.9 1070.1,192.9 1070.5,192.9 1070.9,192.9 1071.3,192.9 1071.8,192.9 1072.2,192.9 1072.6,192.9 1072.9,192.9 1073.3,192.9 1073.7,192.9 1074.1,192.9 1074.5,192.9 1074.8,192.9 1075.2,192.9 1075.6,192.9 1075.9,192.9 1076.3,192.9 1076.6,192.9 1076.9,192.9 1077.3,192.9 1077.6,192.9 1077.9,192.9 1078.2,192.9 1078.5,192.9 1078.9,192.9 1079.2,192.9 1079.5,192.9 1079.8,192.9 1080.1,192.9 1080.3,192.9 1080.6,192.9 1080.9,192.9 1081.2,192.9 1081.4,192.9 1081.7,192.9 1082.0,192.9 1082.2,192.9 1082.5,192.9 1082.7,192.9 1083.0,192.9 1083.2,192.9 1083.4,192.9 1083.7,192.9 1083.9,192.9 1084.1,192.9 1084.3,192.9 1084.6,192.9 1084.8,192.9 1085.0,192.9 1085.2,192.9 1085.4,192.9 1085.6,192.9 1085.8,192.9 1086.0,192.9 1086.1,192.9 1086.3,192.9 1086.5,192.9 1086.7,192.9 1086.8,192.9 1087.0,192.9 1087.2,192.9 1087.3,192.9 1087.5,192.9 1087.6,192.9 1087.8,192.9 1087.9,192.9 1088.0,192.9 1088.2,192.9 1088.3,192.9 1088.4,192.9 1088.5,192.9 1088.7,192.9 1088.8,192.9 1088.9,192.9 1089.0,192.9 1089.1,192.9 1089.2,192.9 1089.3,192.9 1089.4,192.9 1089.5,192.9 1089.6,192.9 1089.6,192.9 1089.7,192.9 1089.8,192.9 1089.9,192.9 1089.9,192.9 1090.0,192.9 1090.0,192.9 1090.1,192.9 1090.2,192.9 1090.2,192.9 1090.3,192.9 1090.3,192.9 1090.3,192.9 1090.4,192.9 1090.4,192.9 1090.4,192.9 1090.4,192.9 1090.5,192.9 1090.5,192.9 1090.5,192.9 1090.5,192.9 1090.5,192.9 1090.5,192.9" fill="none" stroke="none" marker-start="url(#sbo)" marker-mid="url(#sbo)" marker-end="url(#sbo)"/>
<polyline points="695.5,322.0 723.3,322.0 744.9,321.7 762.5,320.4 777.4,315.8 790.3,308.0 801.7,298.9 811.9,289.3 821.1,280.6 829.5,272.9 837.2,266.1 844.4,259.9 851.0,254.0 857.2,248.4 863.1,243.2 868.6,238.8 873.8,234.8 878.7,231.1 883.4,227.8 887.9,224.6 892.2,221.5 896.3,218.4 900.2,215.4 904.0,212.5 907.6,209.6 911.1,206.8 914.4,204.1 917.7,201.4 920.8,198.7 923.8,196.0 926.8,193.4 929.6,190.8 932.4,188.3 935.1,185.8 937.7,183.5 940.2,181.2 942.7,179.0 945.1,176.8 947.4,174.7 949.7,172.7 951.9,170.7 954.1,168.7 956.2,166.7 958.3,164.8 960.3,162.9 962.3,161.0 964.2,159.2 966.1,157.3 968.0,155.6 969.8,153.8 971.6,152.2 973.3,150.6 975.0,149.0 976.7,147.6 978.4,146.3 980.0,145.1 981.6,144.1 983.1,143.2 984.6,142.5 986.1,141.9 987.6,141.4 989.1,141.1 990.5,140.8 991.9,140.6 993.2,140.5 994.6,140.3 995.9,140.2 997.2,140.2 998.5,140.1 999.8,140.1 1001.0,140.0 1002.3,140.0 1003.5,140.0 1004.7,140.0 1005.8,140.0 1007.0,140.0 1008.1,140.0 1009.2,139.9 1010.3,139.9 1011.4,139.9 1012.5,139.9 1013.6,139.9 1014.6,139.9 1015.6,139.9 1016.6,139.9 1017.6,139.9 1018.6,139.9 1019.6,139.9 1020.6,139.9 1021.5,139.9 1022.4,139.9 1023.4,139.9 1024.3,139.9 1025.2,139.9 1026.0,139.9 1026.9,139.9 1027.8,139.9 1028.6,139.9 1029.5,139.9 1030.3,139.9 1031.1,139.9 1031.9,139.9 1032.7,139.9 1033.5,139.9 1034.3,139.9 1035.1,139.9 1035.8,139.9 1036.6,139.9 1037.3,139.9 1038.0,139.9 1038.8,139.9 1039.5,139.9 1040.2,139.9 1040.9,139.9 1041.5,139.9 1042.2,139.9 1042.9,139.9 1043.6,139.9 1044.2,139.9 1044.9,139.9 1045.5,139.9 1046.1,139.9 1046.7,139.9 1047.4,139.9 1048.0,139.9 1048.6,139.9 1049.2,139.9 1049.7,139.9 1050.3,139.9 1050.9,139.9 1051.5,139.9 1052.0,139.9 1052.6,139.9 1053.1,139.9 1053.6,139.9 1054.2,139.9 1054.7,139.9 1055.2,139.9 1055.7,139.9 1056.2,139.9 1056.7,139.9 1057.2,139.9 1057.7,139.9 1058.2,139.9 1058.7,139.9 1059.1,139.9 1059.6,139.9 1060.1,139.9 1060.5,139.9 1061.0,139.9 1061.4,139.9 1061.8,139.9 1062.3,139.9 1062.7,139.9 1063.1,139.9 1063.5,139.9 1063.9,139.9 1064.3,139.9 1064.7,139.9 1065.1,139.9 1065.5,139.9 1065.9,139.9 1066.3,139.9 1066.6,139.9 1067.0,139.9 1067.4,139.9 1067.7,139.9 1068.1,139.9 1068.4,139.9 1068.8,139.9 1069.1,139.9 1069.4,139.9 1069.8,139.9 1070.1,139.9 1070.4,139.9 1070.7,139.9 1071.0,139.9 1071.3,139.9 1071.6,139.9 1071.9,139.9 1072.2,139.9 1072.5,139.9 1072.8,139.9 1073.1,139.9 1073.4,139.9 1073.6,139.9 1073.9,139.9 1074.1,139.9 1074.4,139.9 1074.7,139.9 1074.9,139.9 1075.1,139.9 1075.4,139.9 1075.6,139.9 1075.9,139.9 1076.1,139.9 1076.3,139.9 1076.5,139.9 1076.7,139.9 1077.0,139.9 1077.2,139.9 1077.4,139.9 1077.6,139.9 1077.8,139.9 1077.9,139.9 1078.1,139.9 1078.3,139.9 1078.5,139.9 1078.7,139.9 1078.8,139.9 1079.0,139.9 1079.2,139.9 1079.3,139.9 1079.5,139.9 1079.6,139.9 1079.8,139.9 1079.9,139.9 1080.1,139.9 1080.2,139.9 1080.3,139.9 1080.5,139.9 1080.6,139.9 1080.7,139.9 1080.8,139.9 1081.0,139.9 1081.1,139.9 1081.2,139.9 1081.3,139.9 1081.4,139.9 1081.5,139.9 1081.6,139.9 1081.7,139.9 1081.7,139.9 1081.8,139.9 1081.9,139.9 1082.0,139.9 1082.0,139.9 1082.1,139.9 1082.2,139.9 1082.2,139.9 1082.3,139.9 1082.3,139.9 1082.4,139.9 1082.4,139.9 1082.5,139.9 1082.5,139.9 1082.5,139.9 1082.6,139.9 1082.6,139.9 1082.6,139.9 1082.6,139.9 1082.7,139.9 1082.7,139.9 1082.7,139.9 1082.7,139.9 1082.7,139.9" fill="none" stroke="none" marker-start="url(#tbf)" marker-mid="url(#tbf)" marker-end="url(#tbf)"/>
<polyline points="695.5,318.1 723.3,315.5 744.9,312.2 762.5,307.6 777.4,301.3 790.3,294.4 801.7,289.4 811.9,284.5 821.1,280.3 829.5,276.4 837.2,271.6 844.4,266.6 851.0,260.2 857.2,254.5 863.1,249.4 868.6,244.9 873.8,240.9 878.7,237.3 883.4,233.9 887.9,230.7 892.2,227.6 896.3,224.6 900.2,221.6 904.0,218.7 907.6,215.8 911.1,213.0 914.4,210.4 917.7,207.7 920.8,205.0 923.8,202.3 926.8,199.7 929.6,197.2 932.4,194.7 935.1,192.3 937.7,189.9 940.2,187.7 942.7,185.5 945.1,183.4 947.4,181.4 949.7,179.4 951.9,177.5 954.1,175.5 956.2,173.7 958.3,171.8 960.3,170.0 962.3,168.2 964.2,166.4 966.1,164.7 968.0,163.0 969.8,161.4 971.6,159.8 973.3,158.3 975.0,156.8 976.7,155.5 978.4,154.2 980.0,153.1 981.6,152.0 983.1,151.1 984.6,150.3 986.1,149.6 987.6,149.1 989.1,148.6 990.5,148.2 991.9,147.8 993.2,147.5 994.6,147.3 995.9,147.1 997.2,146.9 998.5,146.7 999.8,146.6 1001.0,146.5 1002.3,146.5 1003.5,146.4 1004.7,146.3 1005.8,146.3 1007.0,146.3 1008.1,146.2 1009.2,146.2 1010.3,146.2 1011.4,146.2 1012.5,146.1 1013.6,146.1 1014.6,146.1 1015.6,146.1 1016.6,146.1 1017.6,146.1 1018.6,146.1 1019.6,146.1 1020.6,146.1 1021.5,146.1 1022.4,146.1 1023.4,146.1 1024.3,146.1 1025.2,146.1 1026.0,146.1 1026.9,146.1 1027.8,146.1 1028.6,146.1 1029.5,146.1 1030.3,146.1 1031.1,146.1 1031.9,146.1 1032.7,146.1 1033.5,146.1 1034.3,146.1 1035.1,146.1 1035.8,146.1 1036.6,146.1 1037.3,146.1 1038.0,146.1 1038.8,146.1 1039.5,146.1 1040.2,146.1 1040.9,146.1 1041.5,146.1 1042.2,146.1 1042.9,146.1 1043.6,146.1 1044.2,146.1 1044.9,146.1 1045.5,146.1 1046.1,146.1 1046.7,146.1 1047.4,146.1 1048.0,146.1 1048.6,146.1 1049.2,146.1 1049.7,146.1 1050.3,146.1 1050.9,146.1 1051.5,146.1 1052.0,146.1 1052.6,146.1 1053.1,146.1 1053.6,146.1 1054.2,146.1 1054.7,146.1 1055.2,146.1 1055.7,146.1 1056.2,146.1 1056.7,146.1 1057.2,146.1 1057.7,146.1 1058.2,146.1 1058.7,146.1 1059.1,146.1 1059.6,146.1 1060.1,146.1 1060.5,146.1 1061.0,146.1 1061.4,146.1 1061.8,146.1 1062.3,146.1 1062.7,146.1 1063.1,146.1 1063.5,146.1 1063.9,146.1 1064.3,146.1 1064.7,146.1 1065.1,146.1 1065.5,146.1 1065.9,146.1 1066.3,146.1 1066.6,146.1 1067.0,146.1 1067.4,146.1 1067.7,146.1 1068.1,146.1 1068.4,146.1 1068.8,146.1 1069.1,146.1 1069.4,146.1 1069.8,146.1 1070.1,146.1 1070.4,146.1 1070.7,146.1 1071.0,146.1 1071.3,146.1 1071.6,146.1 1071.9,146.1 1072.2,146.1 1072.5,146.1 1072.8,146.1 1073.1,146.1 1073.4,146.1 1073.6,146.1 1073.9,146.1 1074.1,146.1 1074.4,146.1 1074.7,146.1 1074.9,146.1 1075.1,146.1 1075.4,146.1 1075.6,146.1 1075.9,146.1 1076.1,146.1 1076.3,146.1 1076.5,146.1 1076.7,146.1 1077.0,146.1 1077.2,146.1 1077.4,146.1 1077.6,146.1 1077.8,146.1 1077.9,146.1 1078.1,146.1 1078.3,146.1 1078.5,146.1 1078.7,146.1 1078.8,146.1 1079.0,146.1 1079.2,146.1 1079.3,146.1 1079.5,146.1 1079.6,146.1 1079.8,146.1 1079.9,146.1 1080.1,146.1 1080.2,146.1 1080.3,146.1 1080.5,146.1 1080.6,146.1 1080.7,146.1 1080.8,146.1 1081.0,146.1 1081.1,146.1 1081.2,146.1 1081.3,146.1 1081.4,146.1 1081.5,146.1 1081.6,146.1 1081.7,146.1 1081.7,146.1 1081.8,146.1 1081.9,146.1 1082.0,146.1 1082.0,146.1 1082.1,146.1 1082.2,146.1 1082.2,146.1 1082.3,146.1 1082.3,146.1 1082.4,146.1 1082.4,146.1 1082.5,146.1 1082.5,146.1 1082.5,146.1 1082.6,146.1 1082.6,146.1 1082.6,146.1 1082.6,146.1 1082.7,146.1 1082.7,146.1 1082.7,146.1 1082.7,146.1 1082.7,146.1" fill="none" stroke="none" marker-start="url(#tbo)" marker-mid="url(#tbo)" marker-end="url(#tbo)"/>
<polyline points="693.6,322.0 721.4,322.0 743.0,321.7 760.7,320.6 775.6,316.6 788.5,309.3 799.9,300.5 810.0,291.1 819.2,282.3 827.7,274.6 835.4,267.7 842.5,261.5 849.2,255.7 855.4,250.1 861.3,244.8 866.8,240.2 872.0,236.2 876.9,232.5 881.6,229.1 886.1,225.9 890.4,222.9 894.4,219.9 898.4,217.0 902.1,214.0 905.7,211.2 909.2,208.4 912.6,205.8 915.8,203.2 919.0,200.5 922.0,197.9 924.9,195.4 927.8,192.9 930.6,190.4 933.2,188.0 935.8,185.7 938.4,183.5 940.8,181.3 943.2,179.2 945.6,177.2 947.9,175.3 950.1,173.3 952.3,171.4 954.4,169.6 956.5,167.7 958.5,165.9 960.5,164.1 962.4,162.3 964.3,160.5 966.2,158.7 968.0,156.9 969.7,155.2 971.5,153.4 973.2,151.7 974.9,150.0 976.5,148.2 978.1,146.5 979.7,144.8 981.3,143.2 982.8,141.5 984.3,139.9 985.8,138.2 987.2,136.6 988.6,135.0 990.0,133.5 991.4,131.9 992.8,130.5 994.1,129.0 995.4,127.6 996.7,126.3 998.0,125.1 999.2,124.0 1000.4,122.9 1001.6,122.0 1002.8,121.2 1004.0,120.5 1005.1,120.0 1006.3,119.5 1007.4,119.2 1008.5,118.9 1009.6,118.6 1010.7,118.5 1011.7,118.3 1012.8,118.2 1013.8,118.1 1014.8,118.0 1015.8,118.0 1016.8,117.9 1017.8,117.9 1018.7,117.8 1019.7,117.8 1020.6,117.8 1021.5,117.7 1022.4,117.7 1023.3,117.7 1024.2,117.7 1025.1,117.7 1025.9,117.7 1026.8,117.7 1027.6,117.7 1028.5,117.7 1029.3,117.7 1030.1,117.7 1030.9,117.7 1031.7,117.7 1032.5,117.7 1033.2,117.7 1034.0,117.7 1034.7,117.7 1035.5,117.7 1036.2,117.7 1036.9,117.6 1037.6,117.6 1038.3,117.6 1039.0,117.6 1039.7,117.6 1040.4,117.6 1041.1,117.6 1041.7,117.6 1042.4,117.6 1043.0,117.6 1043.7,117.6 1044.3,117.6 1044.9,117.6 1045.5,117.6 1046.1,117.6 1046.7,117.6 1047.3,117.6 1047.9,117.6 1048.5,117.6 1049.1,117.6 1049.6,117.6 1050.2,117.6 1050.7,117.6 1051.3,117.6 1051.8,117.6 1052.3,117.6 1052.9,117.6 1053.4,117.6 1053.9,117.6 1054.4,117.6 1054.9,117.6 1055.4,117.6 1055.9,117.6 1056.4,117.6 1056.8,117.6 1057.3,117.6 1057.8,117.6 1058.2,117.6 1058.7,117.6 1059.1,117.6 1059.6,117.6 1060.0,117.6 1060.4,117.6 1060.9,117.6 1061.3,117.6 1061.7,117.6 1062.1,117.6 1062.5,117.6 1062.9,117.6 1063.3,117.6 1063.7,117.6 1064.1,117.6 1064.4,117.6 1064.8,117.6 1065.2,117.6 1065.5,117.6 1065.9,117.6 1066.2,117.6 1066.6,117.6 1066.9,117.6 1067.3,117.6 1067.6,117.6 1067.9,117.6 1068.3,117.6 1068.6,117.6 1068.9,117.6 1069.2,117.6 1069.5,117.6 1069.8,117.6 1070.1,117.6 1070.4,117.6 1070.7,117.6 1071.0,117.6 1071.2,117.6 1071.5,117.6 1071.8,117.6 1072.1,117.6 1072.3,117.6 1072.6,117.6 1072.8,117.6 1073.1,117.6 1073.3,117.6 1073.6,117.6 1073.8,117.6 1074.0,117.6 1074.2,117.6 1074.5,117.6 1074.7,117.6 1074.9,117.6 1075.1,117.6 1075.3,117.6 1075.5,117.6 1075.7,117.6 1075.9,117.6 1076.1,117.6 1076.3,117.6 1076.5,117.6 1076.7,117.6 1076.8,117.6 1077.0,117.6 1077.2,117.6 1077.3,117.6 1077.5,117.6 1077.7,117.6 1077.8,117.6 1078.0,117.6 1078.1,117.6 1078.2,117.6 1078.4,117.6 1078.5,117.6 1078.6,117.6 1078.8,117.6 1078.9,117.6 1079.0,117.6 1079.1,117.6 1079.2,117.6 1079.3,117.6 1079.4,117.6 1079.5,117.6 1079.6,117.6 1079.7,117.6 1079.8,117.6 1079.9,117.6 1080.0,117.6 1080.1,117.6 1080.1,117.6 1080.2,117.6 1080.3,117.6 1080.3,117.6 1080.4,117.6 1080.4,117.6 1080.5,117.6 1080.5,117.6 1080.6,117.6 1080.6,117.6 1080.7,117.6 1080.7,117.6 1080.7,117.6 1080.8,117.6 1080.8,117.6 1080.8,117.6 1080.8,117.6 1080.8,117.6 1080.8,117.6 1080.8,117.6 1080.9,117.6" fill="none" stroke="none" marker-start="url(#dbf)" marker-mid="url(#dbf)" marker-end="url(#dbf)"/>
<polyline points="693.6,318.2 721.4,315.7 743.0,312.5 760.7,308.2 775.6,302.4 788.5,295.2 799.9,290.2 810.0,285.4 819.2,281.1 827.7,277.2 835.4,272.7 842.5,268.0 849.2,262.9 855.4,257.3 861.3,252.0 866.8,247.5 872.0,243.4 876.9,239.7 881.6,236.3 886.1,233.2 890.4,230.1 894.4,227.1 898.4,224.2 902.1,221.3 905.7,218.4 909.2,215.7 912.6,213.1 915.8,210.4 919.0,207.8 922.0,205.2 924.9,202.7 927.8,200.2 930.6,197.8 933.2,195.4 935.8,193.1 938.4,190.9 940.8,188.8 943.2,186.7 945.6,184.7 947.9,182.8 950.1,181.0 952.3,179.1 954.4,177.3 956.5,175.5 958.5,173.7 960.5,171.9 962.4,170.2 964.3,168.5 966.2,166.7 968.0,165.0 969.7,163.4 971.5,161.7 973.2,160.1 974.9,158.4 976.5,156.8 978.1,155.2 979.7,153.6 981.3,152.0 982.8,150.4 984.3,148.9 985.8,147.4 987.2,145.9 988.6,144.4 990.0,143.0 991.4,141.5 992.8,140.2 994.1,138.8 995.4,137.5 996.7,136.3 998.0,135.1 999.2,134.0 1000.4,133.0 1001.6,132.1 1002.8,131.2 1004.0,130.4 1005.1,129.7 1006.3,129.1 1007.4,128.6 1008.5,128.1 1009.6,127.7 1010.7,127.3 1011.7,127.0 1012.8,126.8 1013.8,126.5 1014.8,126.3 1015.8,126.1 1016.8,126.0 1017.8,125.8 1018.7,125.7 1019.7,125.6 1020.6,125.5 1021.5,125.4 1022.4,125.3 1023.3,125.3 1024.2,125.2 1025.1,125.2 1025.9,125.2 1026.8,125.1 1027.6,125.1 1028.5,125.1 1029.3,125.0 1030.1,125.0 1030.9,125.0 1031.7,125.0 1032.5,125.0 1033.2,125.0 1034.0,125.0 1034.7,124.9 1035.5,124.9 1036.2,124.9 1036.9,124.9 1037.6,124.9 1038.3,124.9 1039.0,124.9 1039.7,124.9 1040.4,124.9 1041.1,124.9 1041.7,124.9 1042.4,124.9 1043.0,124.9 1043.7,124.9 1044.3,124.9 1044.9,124.9 1045.5,124.9 1046.1,124.9 1046.7,124.9 1047.3,124.9 1047.9,124.9 1048.5,124.9 1049.1,124.9 1049.6,124.9 1050.2,124.9 1050.7,124.9 1051.3,124.9 1051.8,124.9 1052.3,124.9 1052.9,124.9 1053.4,124.9 1053.9,124.9 1054.4,124.9 1054.9,124.9 1055.4,124.9 1055.9,124.9 1056.4,124.9 1056.8,124.9 1057.3,124.9 1057.8,124.9 1058.2,124.9 1058.7,124.9 1059.1,124.9 1059.6,124.9 1060.0,124.9 1060.4,124.9 1060.9,124.9 1061.3,124.9 1061.7,124.9 1062.1,124.9 1062.5,124.9 1062.9,124.9 1063.3,124.9 1063.7,124.9 1064.1,124.9 1064.4,124.9 1064.8,124.9 1065.2,124.9 1065.5,124.9 1065.9,124.9 1066.2,124.9 1066.6,124.9 1066.9,124.9 1067.3,124.9 1067.6,124.9 1067.9,124.9 1068.3,124.9 1068.6,124.9 1068.9,124.9 1069.2,124.9 1069.5,124.9 1069.8,124.9 1070.1,124.9 1070.4,124.9 1070.7,124.9 1071.0,124.9 1071.2,124.9 1071.5,124.9 1071.8,124.9 1072.1,124.9 1072.3,124.9 1072.6,124.9 1072.8,124.9 1073.1,124.9 1073.3,124.9 1073.6,124.9 1073.8,124.9 1074.0,124.9 1074.2,124.9 1074.5,124.9 1074.7,124.9 1074.9,124.9 1075.1,124.9 1075.3,124.9 1075.5,124.9 1075.7,124.9 1075.9,124.9 1076.1,124.9 1076.3,124.9 1076.5,124.9 1076.7,124.9 1076.8,124.9 1077.0,124.9 1077.2,124.9 1077.3,124.9 1077.5,124.9 1077.7,124.9 1077.8,124.9 1078.0,124.9 1078.1,124.9 1078.2,124.9 1078.4,124.9 1078.5,124.9 1078.6,124.9 1078.8,124.9 1078.9,124.9 1079.0,124.9 1079.1,124.9 1079.2,124.9 1079.3,124.9 1079.4,124.9 1079.5,124.9 1079.6,124.9 1079.7,124.9 1079.8,124.9 1079.9,124.9 1080.0,124.9 1080.1,124.9 1080.1,124.9 1080.2,124.9 1080.3,124.9 1080.3,124.9 1080.4,124.9 1080.4,124.9 1080.5,124.9 1080.5,124.9 1080.6,124.9 1080.6,124.9 1080.7,124.9 1080.7,124.9 1080.7,124.9 1080.8,124.9 1080.8,124.9 1080.8,124.9 1080.8,124.9 1080.8,124.9 1080.8,124.9 1080.8,124.9 1080.9,124.9" fill="none" stroke="none" marker-start="url(#dbo)" marker-mid="url(#dbo)" marker-end="url(#dbo)"/>
</g>
<rect x="89.5" y="14.7" width="445.5" height="307.3" fill="none" stroke="#1c1c1c" stroke-width="1.25"/>
<path d="M123.03 322.0v-2.0M123.03 14.7v2.0M142.64 322.0v-2.0M142.64 14.7v2.0M156.55 322.0v-2.0M156.55 14.7v2.0M167.35 322.0v-2.0M167.35 14.7v2.0M176.17 322.0v-2.0M176.17 14.7v2.0M183.62 322.0v-2.0M183.62 14.7v2.0M190.08 322.0v-2.0M190.08 14.7v2.0M195.78 322.0v-2.0M195.78 14.7v2.0M200.88 322.0v-3.9M200.88 14.7v3.9M234.40 322.0v-2.0M234.40 14.7v2.0M254.01 322.0v-2.0M254.01 14.7v2.0M267.93 322.0v-2.0M267.93 14.7v2.0M278.72 322.0v-2.0M278.72 14.7v2.0M287.54 322.0v-2.0M287.54 14.7v2.0M295.00 322.0v-2.0M295.00 14.7v2.0M301.46 322.0v-2.0M301.46 14.7v2.0M307.15 322.0v-2.0M307.15 14.7v2.0M312.25 322.0v-3.9M312.25 14.7v3.9M345.78 322.0v-2.0M345.78 14.7v2.0M365.39 322.0v-2.0M365.39 14.7v2.0M379.30 322.0v-2.0M379.30 14.7v2.0M390.10 322.0v-2.0M390.10 14.7v2.0M398.92 322.0v-2.0M398.92 14.7v2.0M406.37 322.0v-2.0M406.37 14.7v2.0M412.83 322.0v-2.0M412.83 14.7v2.0M418.53 322.0v-2.0M418.53 14.7v2.0M423.62 322.0v-3.9M423.62 14.7v3.9M457.15 322.0v-2.0M457.15 14.7v2.0M476.76 322.0v-2.0M476.76 14.7v2.0M490.68 322.0v-2.0M490.68 14.7v2.0M501.47 322.0v-2.0M501.47 14.7v2.0M510.29 322.0v-2.0M510.29 14.7v2.0M517.75 322.0v-2.0M517.75 14.7v2.0M524.21 322.0v-2.0M524.21 14.7v2.0M529.90 322.0v-2.0M529.90 14.7v2.0M89.5 245.18h3.9M535.0 245.18h-3.9M89.5 168.35h3.9M535.0 168.35h-3.9M89.5 91.53h3.9M535.0 91.53h-3.9" stroke="#1c1c1c" stroke-width="1" fill="none"/>
<text x="80.7" y="332.3" text-anchor="end" class="t">0</text>
<text x="80.7" y="255.5" text-anchor="end" class="t">5</text>
<text x="80.7" y="178.7" text-anchor="end" class="t">10</text>
<text x="80.7" y="101.8" text-anchor="end" class="t">15</text>
<text x="80.7" y="25.0" text-anchor="end" class="t">20</text>
<text x="72.6" y="357.9" class="t">10<tspan dy="-9.9" dx="0.3" style="font-size:17px">0</tspan></text>
<text x="184.0" y="357.9" class="t">10<tspan dy="-9.9" dx="0.3" style="font-size:17px">1</tspan></text>
<text x="295.4" y="357.9" class="t">10<tspan dy="-9.9" dx="0.3" style="font-size:17px">2</tspan></text>
<text x="406.7" y="357.9" class="t">10<tspan dy="-9.9" dx="0.3" style="font-size:17px">3</tspan></text>
<text x="518.1" y="357.9" class="t">10<tspan dy="-9.9" dx="0.3" style="font-size:17px">4</tspan></text>
<text x="298.6" y="385.3" class="t"><tspan font-style="italic" style="font-size:28.5px">y</tspan><tspan dy="-7.4" dx="1.2" style="font-size:24px">+</tspan></text>
<rect x="684.5" y="14.7" width="445.5" height="307.3" fill="none" stroke="#1c1c1c" stroke-width="1.25"/>
<path d="M718.03 322.0v-2.0M718.03 14.7v2.0M737.64 322.0v-2.0M737.64 14.7v2.0M751.55 322.0v-2.0M751.55 14.7v2.0M762.35 322.0v-2.0M762.35 14.7v2.0M771.17 322.0v-2.0M771.17 14.7v2.0M778.62 322.0v-2.0M778.62 14.7v2.0M785.08 322.0v-2.0M785.08 14.7v2.0M790.78 322.0v-2.0M790.78 14.7v2.0M795.88 322.0v-3.9M795.88 14.7v3.9M829.40 322.0v-2.0M829.40 14.7v2.0M849.01 322.0v-2.0M849.01 14.7v2.0M862.93 322.0v-2.0M862.93 14.7v2.0M873.72 322.0v-2.0M873.72 14.7v2.0M882.54 322.0v-2.0M882.54 14.7v2.0M890.00 322.0v-2.0M890.00 14.7v2.0M896.46 322.0v-2.0M896.46 14.7v2.0M902.15 322.0v-2.0M902.15 14.7v2.0M907.25 322.0v-3.9M907.25 14.7v3.9M940.78 322.0v-2.0M940.78 14.7v2.0M960.39 322.0v-2.0M960.39 14.7v2.0M974.30 322.0v-2.0M974.30 14.7v2.0M985.10 322.0v-2.0M985.10 14.7v2.0M993.92 322.0v-2.0M993.92 14.7v2.0M1001.37 322.0v-2.0M1001.37 14.7v2.0M1007.83 322.0v-2.0M1007.83 14.7v2.0M1013.53 322.0v-2.0M1013.53 14.7v2.0M1018.62 322.0v-3.9M1018.62 14.7v3.9M1052.15 322.0v-2.0M1052.15 14.7v2.0M1071.76 322.0v-2.0M1071.76 14.7v2.0M1085.68 322.0v-2.0M1085.68 14.7v2.0M1096.47 322.0v-2.0M1096.47 14.7v2.0M1105.29 322.0v-2.0M1105.29 14.7v2.0M1112.75 322.0v-2.0M1112.75 14.7v2.0M1119.21 322.0v-2.0M1119.21 14.7v2.0M1124.90 322.0v-2.0M1124.90 14.7v2.0M684.5 245.18h3.9M1130.0 245.18h-3.9M684.5 168.35h3.9M1130.0 168.35h-3.9M684.5 91.53h3.9M1130.0 91.53h-3.9" stroke="#1c1c1c" stroke-width="1" fill="none"/>
<text x="672.5" y="332.3" text-anchor="end" class="t">0</text>
<text x="672.5" y="255.5" text-anchor="end" class="t">5</text>
<text x="672.5" y="178.7" text-anchor="end" class="t">10</text>
<text x="672.5" y="101.8" text-anchor="end" class="t">15</text>
<text x="672.5" y="25.0" text-anchor="end" class="t">20</text>
<text x="667.6" y="357.9" class="t">10<tspan dy="-9.9" dx="0.3" style="font-size:17px">0</tspan></text>
<text x="779.0" y="357.9" class="t">10<tspan dy="-9.9" dx="0.3" style="font-size:17px">1</tspan></text>
<text x="890.4" y="357.9" class="t">10<tspan dy="-9.9" dx="0.3" style="font-size:17px">2</tspan></text>
<text x="1001.7" y="357.9" class="t">10<tspan dy="-9.9" dx="0.3" style="font-size:17px">3</tspan></text>
<text x="1113.1" y="357.9" class="t">10<tspan dy="-9.9" dx="0.3" style="font-size:17px">4</tspan></text>
<text x="893.6" y="385.3" class="t"><tspan font-style="italic" style="font-size:28.5px">y</tspan><tspan dy="-7.4" dx="1.2" style="font-size:24px">+</tspan></text>
<rect x="95.3" y="17.0" width="275.2" height="136.2" fill="#fff" stroke="#000" stroke-width="1.3"/>
<path d="M113.1 30.8h0.01" fill="none" stroke="none" marker-start="url(#saf)"/>
<text x="140.3" y="37.5" class="l i">Re</text>
<text x="167.1" y="42.1" class="l i" style="font-size:18px">τ</text>
<text class="l" transform="translate(178.7 39.7) scale(1.36 1.22)">=</text>
<text x="202.9" y="37.5" class="l">181</text>
<path d="M113.1 57.4h0.01" fill="none" stroke="none" marker-start="url(#taf)"/>
<text x="140.3" y="63.6" class="l i">Re</text>
<text x="167.1" y="68.2" class="l i" style="font-size:18px">τ</text>
<text class="l" transform="translate(178.7 65.8) scale(1.36 1.22)">=</text>
<text x="202.9" y="63.6" class="l">550</text>
<path d="M113.1 82.4h0.01" fill="none" stroke="none" marker-start="url(#caf)"/>
<text x="140.3" y="89.4" class="l i">Re</text>
<text x="167.1" y="94.0" class="l i" style="font-size:18px">τ</text>
<text class="l" transform="translate(178.7 91.6) scale(1.36 1.22)">=</text>
<text x="202.9" y="89.4" class="l">1000</text>
<line x1="99.6" y1="109.0" x2="126.9" y2="109.0" stroke="#7e7e7e" stroke-width="2.6"/>
<text x="143.8" y="116.6" class="l i">U</text>
<text x="162.2" y="111.6" class="l" style="font-size:21px">+</text>
<text x="174.0" y="116.6" class="l" transform="translate(174.0 0) scale(1.2 1) translate(-174.0 0)">−</text>
<text x="196.8" y="116.6" class="l">9.3</text>
<text x="235.8" y="116.6" class="l">(</text>
<text x="243.6" y="116.6" class="l i">Re</text>
<text x="270.4" y="121.2" class="l i" style="font-size:18px">τ</text>
<text class="l" transform="translate(282.0 118.8) scale(1.36 1.22)">=</text>
<text x="306.2" y="116.6" class="l">1000)</text>
<line x1="100.39999999999999" y1="136.7" x2="126.9" y2="136.7" stroke="#000" stroke-width="1.5" stroke-dasharray="6.4 3.4"/>
<text x="138.2" y="144.3" class="l">(1/0.4)</text>
<text x="212.7" y="144.3" class="l">ln(</text>
<text x="240.0" y="144.3" class="l i">y</text>
<text x="250.2" y="139.3" class="l" style="font-size:21px">+</text>
<text x="265.8" y="144.3" class="l">)</text>
<text x="282.7" y="144.3" class="l" transform="translate(282.7 0) scale(1.2 1) translate(-282.7 0)">−</text>
<text x="305.4" y="144.3" class="l">4.3</text>
<rect x="688.6" y="18.4" width="277.1" height="132.8" fill="#fff" stroke="#000" stroke-width="1.3"/>
<path d="M708.3 30.5h0.01" fill="none" stroke="none" marker-start="url(#sbf)"/>
<text x="732.6" y="39.9" class="l i">Re</text>
<text x="759.4" y="44.5" class="l i" style="font-size:18px">τ</text>
<text class="l" transform="translate(771.0 42.1) scale(1.36 1.22)">=</text>
<text x="795.2" y="39.9" class="l">252</text>
<path d="M708.3 56.5h0.01" fill="none" stroke="none" marker-start="url(#tbf)"/>
<text x="732.6" y="64.8" class="l i">Re</text>
<text x="759.4" y="69.4" class="l i" style="font-size:18px">τ</text>
<text class="l" transform="translate(771.0 67.0) scale(1.36 1.22)">=</text>
<text x="795.2" y="64.8" class="l">671</text>
<path d="M708.3 82.0h0.01" fill="none" stroke="none" marker-start="url(#dbf)"/>
<text x="732.6" y="89.6" class="l i">Re</text>
<text x="759.4" y="94.2" class="l i" style="font-size:18px">τ</text>
<text class="l" transform="translate(771.0 91.8) scale(1.36 1.22)">=</text>
<text x="795.2" y="89.6" class="l">1043</text>
<line x1="694.3" y1="106.0" x2="722.0" y2="106.0" stroke="#7e7e7e" stroke-width="2.6"/>
<text x="735.3" y="116.3" class="l i">U</text>
<text x="753.7" y="111.3" class="l" style="font-size:21px">+</text>
<text x="767.1" y="116.3" class="l" transform="translate(767.1 0) scale(1.2 1) translate(-767.1 0)">−</text>
<text x="790.9" y="116.3" class="l">9.3</text>
<text x="829.9" y="116.3" class="l">(</text>
<text x="837.7" y="116.3" class="l i">Re</text>
<text x="864.5" y="120.9" class="l i" style="font-size:18px">τ</text>
<text class="l" transform="translate(876.1 118.5) scale(1.36 1.22)">=</text>
<text x="900.3" y="116.3" class="l">1043)</text>
<line x1="695.0999999999999" y1="131.5" x2="722.0" y2="131.5" stroke="#000" stroke-width="1.5" stroke-dasharray="6.4 3.4"/>
<text x="731.5" y="142.9" class="l">(1/0.4)</text>
<text x="806.0" y="142.9" class="l">ln(</text>
<text x="833.3" y="142.9" class="l i">y</text>
<text x="843.5" y="137.9" class="l" style="font-size:21px">+</text>
<text x="859.1" y="142.9" class="l">)</text>
<text x="876.0" y="142.9" class="l" transform="translate(876.0 0) scale(1.2 1) translate(-876.0 0)">−</text>
<text x="898.7" y="142.9" class="l">4.3</text>
<text x="406.5" y="252.0" class="l">Filled:</text>
<text x="479.0" y="252.0" class="l" style="font-family:'DejaVu Math TeX Gyre','DejaVu Sans',serif;font-size:25px">ℐ</text>
<text x="495.4" y="247.4" class="l" style="font-size:23px">+</text>
<text x="495.8" y="262.8" class="l" style="font-family:'DejaVu Math TeX Gyre','DejaVu Sans',serif;font-size:19px">𝒫</text>
<text x="511.5" y="267.8" class="l i" style="font-size:16px">k</text>
<text x="403.5" y="296.0" class="l">Open:</text>
<text class="l" transform="translate(474.2 296.0) scale(1.12 1)">−</text>
<text x="491.0" y="296.0" class="l" style="font-family:'DejaVu Math TeX Gyre','DejaVu Sans',serif;font-size:25px">ℐ</text>
<text x="507.4" y="291.0" class="l" style="font-size:23px">+</text>
<text x="506.5" y="306.6" class="l" style="font-family:'DejaVu Math TeX Gyre','DejaVu Sans',serif;font-size:16px">ℰ</text>
<text x="515.5" y="311.6" class="l i" style="font-size:16px">k</text>
<text y="24.6" class="t" style="font-size:29px"><tspan x="2.4">(</tspan><tspan x="12.6" font-style="italic">a</tspan><tspan x="27.8">)</tspan></text>
<text y="24.6" class="t" style="font-size:29px"><tspan x="588.0">(</tspan><tspan x="598.4" font-style="italic">b</tspan><tspan x="612.8">)</tspan></text>
</svg>
</body></html>
